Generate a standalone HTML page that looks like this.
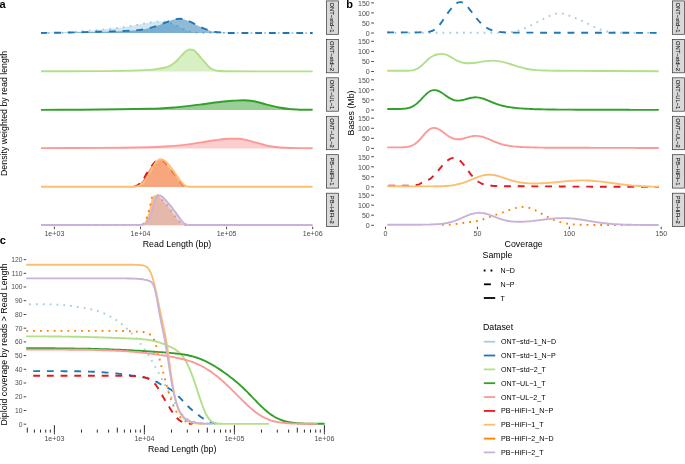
<!DOCTYPE html>
<html><head><meta charset="utf-8"><style>
html,body{margin:0;padding:0;background:#fff;}
body{width:685px;height:464px;overflow:hidden;}
svg{display:block;font-family:"Liberation Sans", sans-serif;will-change:transform;}
</style></head><body>
<svg width="685" height="464" viewBox="0 0 685 464">
<rect width="685" height="464" fill="#fff"/>
<text x="-0.6" y="8.2" font-size="11" fill="#000" text-anchor="start" font-weight="bold">a</text>
<text x="346.3" y="8.2" font-size="11" fill="#000" text-anchor="start" font-weight="bold">b</text>
<text x="-0.3" y="244.1" font-size="11" fill="#000" text-anchor="start" font-weight="bold">c</text>
<rect x="326.5" y="0.9" width="12" height="33.4" fill="#D9D9D9" stroke="#333333" stroke-width="0.7"/>
<text transform="translate(330.4,17.6) rotate(90)" font-size="5.8" fill="#1A1A1A" stroke="#1A1A1A" stroke-width="0.12" text-anchor="middle">ONT−std−1</text>
<rect x="672.4" y="0.9" width="12" height="33.4" fill="#D9D9D9" stroke="#333333" stroke-width="0.7"/>
<text transform="translate(676.3,17.6) rotate(90)" font-size="5.8" fill="#1A1A1A" stroke="#1A1A1A" stroke-width="0.12" text-anchor="middle">ONT−std−1</text>
<rect x="326.5" y="39.4" width="12" height="33.4" fill="#D9D9D9" stroke="#333333" stroke-width="0.7"/>
<text transform="translate(330.4,56) rotate(90)" font-size="5.8" fill="#1A1A1A" stroke="#1A1A1A" stroke-width="0.12" text-anchor="middle">ONT−std−2</text>
<rect x="672.4" y="39.4" width="12" height="33.4" fill="#D9D9D9" stroke="#333333" stroke-width="0.7"/>
<text transform="translate(676.3,56) rotate(90)" font-size="5.8" fill="#1A1A1A" stroke="#1A1A1A" stroke-width="0.12" text-anchor="middle">ONT−std−2</text>
<rect x="326.5" y="77.8" width="12" height="33.4" fill="#D9D9D9" stroke="#333333" stroke-width="0.7"/>
<text transform="translate(330.4,94.5) rotate(90)" font-size="5.8" fill="#1A1A1A" stroke="#1A1A1A" stroke-width="0.12" text-anchor="middle">ONT−UL−1</text>
<rect x="672.4" y="77.8" width="12" height="33.4" fill="#D9D9D9" stroke="#333333" stroke-width="0.7"/>
<text transform="translate(676.3,94.5) rotate(90)" font-size="5.8" fill="#1A1A1A" stroke="#1A1A1A" stroke-width="0.12" text-anchor="middle">ONT−UL−1</text>
<rect x="326.5" y="116.3" width="12" height="33.4" fill="#D9D9D9" stroke="#333333" stroke-width="0.7"/>
<text transform="translate(330.4,133) rotate(90)" font-size="5.8" fill="#1A1A1A" stroke="#1A1A1A" stroke-width="0.12" text-anchor="middle">ONT−UL−2</text>
<rect x="672.4" y="116.3" width="12" height="33.4" fill="#D9D9D9" stroke="#333333" stroke-width="0.7"/>
<text transform="translate(676.3,133) rotate(90)" font-size="5.8" fill="#1A1A1A" stroke="#1A1A1A" stroke-width="0.12" text-anchor="middle">ONT−UL−2</text>
<rect x="326.5" y="154.7" width="12" height="33.4" fill="#D9D9D9" stroke="#333333" stroke-width="0.7"/>
<text transform="translate(330.4,171.4) rotate(90)" font-size="5.8" fill="#1A1A1A" stroke="#1A1A1A" stroke-width="0.12" text-anchor="middle">PB−HiFi−1</text>
<rect x="672.4" y="154.7" width="12" height="33.4" fill="#D9D9D9" stroke="#333333" stroke-width="0.7"/>
<text transform="translate(676.3,171.4) rotate(90)" font-size="5.8" fill="#1A1A1A" stroke="#1A1A1A" stroke-width="0.12" text-anchor="middle">PB−HiFi−1</text>
<rect x="326.5" y="193.2" width="12" height="33.4" fill="#D9D9D9" stroke="#333333" stroke-width="0.7"/>
<text transform="translate(330.4,209.8) rotate(90)" font-size="5.8" fill="#1A1A1A" stroke="#1A1A1A" stroke-width="0.12" text-anchor="middle">PB−HiFi−2</text>
<rect x="672.4" y="193.2" width="12" height="33.4" fill="#D9D9D9" stroke="#333333" stroke-width="0.7"/>
<text transform="translate(676.3,209.8) rotate(90)" font-size="5.8" fill="#1A1A1A" stroke="#1A1A1A" stroke-width="0.12" text-anchor="middle">PB−HiFi−2</text>
<text transform="translate(7.1,113.4) rotate(-90)" font-size="8.8" fill="#000" text-anchor="middle" font-weight="normal">Density weighted by read length</text>
<text transform="translate(353.9,113) rotate(-90)" font-size="8.8" fill="#000" text-anchor="middle" font-weight="normal">Bases (Mb)</text>
<text transform="translate(7.1,344.4) rotate(-90)" font-size="8.8" fill="#000" text-anchor="middle" font-weight="normal">Diploid coverage by reads &gt; Read Length</text>
<text x="177" y="246.6" font-size="8.8" fill="#000" text-anchor="middle" font-weight="normal">Read Length (bp)</text>
<text x="523.7" y="246.6" font-size="8.8" fill="#000" text-anchor="middle" font-weight="normal">Coverage</text>
<text x="182.2" y="451.6" font-size="8.8" fill="#000" text-anchor="middle" font-weight="normal">Read Length (bp)</text>
<line x1="54.4" y1="226.7" x2="54.4" y2="229.2" stroke="#333333" stroke-width="0.9"/>
<text x="54.4" y="236.3" font-size="7.1" fill="#4D4D4D" text-anchor="middle" font-weight="normal">1e+03</text>
<line x1="140.5" y1="226.7" x2="140.5" y2="229.2" stroke="#333333" stroke-width="0.9"/>
<text x="140.5" y="236.3" font-size="7.1" fill="#4D4D4D" text-anchor="middle" font-weight="normal">1e+04</text>
<line x1="226.6" y1="226.7" x2="226.6" y2="229.2" stroke="#333333" stroke-width="0.9"/>
<text x="226.6" y="236.3" font-size="7.1" fill="#4D4D4D" text-anchor="middle" font-weight="normal">1e+05</text>
<line x1="312.7" y1="226.7" x2="312.7" y2="229.2" stroke="#333333" stroke-width="0.9"/>
<text x="312.7" y="236.3" font-size="7.1" fill="#4D4D4D" text-anchor="middle" font-weight="normal">1e+06</text>
<line x1="385.5" y1="226.7" x2="385.5" y2="229.2" stroke="#333333" stroke-width="0.9"/>
<text x="385.5" y="236.3" font-size="7.1" fill="#4D4D4D" text-anchor="middle" font-weight="normal">0</text>
<line x1="477.4" y1="226.7" x2="477.4" y2="229.2" stroke="#333333" stroke-width="0.9"/>
<text x="477.4" y="236.3" font-size="7.1" fill="#4D4D4D" text-anchor="middle" font-weight="normal">50</text>
<line x1="569.3" y1="226.7" x2="569.3" y2="229.2" stroke="#333333" stroke-width="0.9"/>
<text x="569.3" y="236.3" font-size="7.1" fill="#4D4D4D" text-anchor="middle" font-weight="normal">100</text>
<line x1="661.2" y1="226.7" x2="661.2" y2="229.2" stroke="#333333" stroke-width="0.9"/>
<text x="661.2" y="236.3" font-size="7.1" fill="#4D4D4D" text-anchor="middle" font-weight="normal">150</text>
<line x1="371.2" y1="33" x2="373.9" y2="33" stroke="#333333" stroke-width="0.9"/>
<text x="369.8" y="35.8" font-size="7.1" fill="#4D4D4D" text-anchor="end" font-weight="normal">0</text>
<line x1="371.2" y1="23" x2="373.9" y2="23" stroke="#333333" stroke-width="0.9"/>
<text x="369.8" y="25.7" font-size="7.1" fill="#4D4D4D" text-anchor="end" font-weight="normal">50</text>
<line x1="371.2" y1="12.9" x2="373.9" y2="12.9" stroke="#333333" stroke-width="0.9"/>
<text x="369.8" y="15.7" font-size="7.1" fill="#4D4D4D" text-anchor="end" font-weight="normal">100</text>
<line x1="371.2" y1="2.9" x2="373.9" y2="2.9" stroke="#333333" stroke-width="0.9"/>
<text x="369.8" y="5.6" font-size="7.1" fill="#4D4D4D" text-anchor="end" font-weight="normal">150</text>
<line x1="371.2" y1="71.5" x2="373.9" y2="71.5" stroke="#333333" stroke-width="0.9"/>
<text x="369.8" y="74.2" font-size="7.1" fill="#4D4D4D" text-anchor="end" font-weight="normal">0</text>
<line x1="371.2" y1="61.5" x2="373.9" y2="61.5" stroke="#333333" stroke-width="0.9"/>
<text x="369.8" y="64.2" font-size="7.1" fill="#4D4D4D" text-anchor="end" font-weight="normal">50</text>
<line x1="371.2" y1="51.4" x2="373.9" y2="51.4" stroke="#333333" stroke-width="0.9"/>
<text x="369.8" y="54.1" font-size="7.1" fill="#4D4D4D" text-anchor="end" font-weight="normal">100</text>
<line x1="371.2" y1="41.3" x2="373.9" y2="41.3" stroke="#333333" stroke-width="0.9"/>
<text x="369.8" y="44.1" font-size="7.1" fill="#4D4D4D" text-anchor="end" font-weight="normal">150</text>
<line x1="371.2" y1="110" x2="373.9" y2="110" stroke="#333333" stroke-width="0.9"/>
<text x="369.8" y="112.7" font-size="7.1" fill="#4D4D4D" text-anchor="end" font-weight="normal">0</text>
<line x1="371.2" y1="99.9" x2="373.9" y2="99.9" stroke="#333333" stroke-width="0.9"/>
<text x="369.8" y="102.7" font-size="7.1" fill="#4D4D4D" text-anchor="end" font-weight="normal">50</text>
<line x1="371.2" y1="89.8" x2="373.9" y2="89.8" stroke="#333333" stroke-width="0.9"/>
<text x="369.8" y="92.6" font-size="7.1" fill="#4D4D4D" text-anchor="end" font-weight="normal">100</text>
<line x1="371.2" y1="79.8" x2="373.9" y2="79.8" stroke="#333333" stroke-width="0.9"/>
<text x="369.8" y="82.5" font-size="7.1" fill="#4D4D4D" text-anchor="end" font-weight="normal">150</text>
<line x1="371.2" y1="148.4" x2="373.9" y2="148.4" stroke="#333333" stroke-width="0.9"/>
<text x="369.8" y="151.2" font-size="7.1" fill="#4D4D4D" text-anchor="end" font-weight="normal">0</text>
<line x1="371.2" y1="138.3" x2="373.9" y2="138.3" stroke="#333333" stroke-width="0.9"/>
<text x="369.8" y="141.1" font-size="7.1" fill="#4D4D4D" text-anchor="end" font-weight="normal">50</text>
<line x1="371.2" y1="128.3" x2="373.9" y2="128.3" stroke="#333333" stroke-width="0.9"/>
<text x="369.8" y="131.1" font-size="7.1" fill="#4D4D4D" text-anchor="end" font-weight="normal">100</text>
<line x1="371.2" y1="118.2" x2="373.9" y2="118.2" stroke="#333333" stroke-width="0.9"/>
<text x="369.8" y="121" font-size="7.1" fill="#4D4D4D" text-anchor="end" font-weight="normal">150</text>
<line x1="371.2" y1="186.9" x2="373.9" y2="186.9" stroke="#333333" stroke-width="0.9"/>
<text x="369.8" y="189.6" font-size="7.1" fill="#4D4D4D" text-anchor="end" font-weight="normal">0</text>
<line x1="371.2" y1="176.8" x2="373.9" y2="176.8" stroke="#333333" stroke-width="0.9"/>
<text x="369.8" y="179.6" font-size="7.1" fill="#4D4D4D" text-anchor="end" font-weight="normal">50</text>
<line x1="371.2" y1="166.8" x2="373.9" y2="166.8" stroke="#333333" stroke-width="0.9"/>
<text x="369.8" y="169.5" font-size="7.1" fill="#4D4D4D" text-anchor="end" font-weight="normal">100</text>
<line x1="371.2" y1="156.7" x2="373.9" y2="156.7" stroke="#333333" stroke-width="0.9"/>
<text x="369.8" y="159.5" font-size="7.1" fill="#4D4D4D" text-anchor="end" font-weight="normal">150</text>
<line x1="371.2" y1="225.3" x2="373.9" y2="225.3" stroke="#333333" stroke-width="0.9"/>
<text x="369.8" y="228.1" font-size="7.1" fill="#4D4D4D" text-anchor="end" font-weight="normal">0</text>
<line x1="371.2" y1="215.2" x2="373.9" y2="215.2" stroke="#333333" stroke-width="0.9"/>
<text x="369.8" y="218" font-size="7.1" fill="#4D4D4D" text-anchor="end" font-weight="normal">50</text>
<line x1="371.2" y1="205.2" x2="373.9" y2="205.2" stroke="#333333" stroke-width="0.9"/>
<text x="369.8" y="208" font-size="7.1" fill="#4D4D4D" text-anchor="end" font-weight="normal">100</text>
<line x1="371.2" y1="195.2" x2="373.9" y2="195.2" stroke="#333333" stroke-width="0.9"/>
<text x="369.8" y="197.9" font-size="7.1" fill="#4D4D4D" text-anchor="end" font-weight="normal">150</text>
<line x1="23.7" y1="424.2" x2="26.2" y2="424.2" stroke="#333333" stroke-width="0.9"/>
<text x="22.4" y="426.6" font-size="6.7" fill="#4D4D4D" text-anchor="end" font-weight="normal">0</text>
<line x1="23.7" y1="410.5" x2="26.2" y2="410.5" stroke="#333333" stroke-width="0.9"/>
<text x="22.4" y="412.9" font-size="6.7" fill="#4D4D4D" text-anchor="end" font-weight="normal">10</text>
<line x1="23.7" y1="396.8" x2="26.2" y2="396.8" stroke="#333333" stroke-width="0.9"/>
<text x="22.4" y="399.2" font-size="6.7" fill="#4D4D4D" text-anchor="end" font-weight="normal">20</text>
<line x1="23.7" y1="383" x2="26.2" y2="383" stroke="#333333" stroke-width="0.9"/>
<text x="22.4" y="385.4" font-size="6.7" fill="#4D4D4D" text-anchor="end" font-weight="normal">30</text>
<line x1="23.7" y1="369.3" x2="26.2" y2="369.3" stroke="#333333" stroke-width="0.9"/>
<text x="22.4" y="371.7" font-size="6.7" fill="#4D4D4D" text-anchor="end" font-weight="normal">40</text>
<line x1="23.7" y1="355.6" x2="26.2" y2="355.6" stroke="#333333" stroke-width="0.9"/>
<text x="22.4" y="358" font-size="6.7" fill="#4D4D4D" text-anchor="end" font-weight="normal">50</text>
<line x1="23.7" y1="341.9" x2="26.2" y2="341.9" stroke="#333333" stroke-width="0.9"/>
<text x="22.4" y="344.3" font-size="6.7" fill="#4D4D4D" text-anchor="end" font-weight="normal">60</text>
<line x1="23.7" y1="328.2" x2="26.2" y2="328.2" stroke="#333333" stroke-width="0.9"/>
<text x="22.4" y="330.6" font-size="6.7" fill="#4D4D4D" text-anchor="end" font-weight="normal">70</text>
<line x1="23.7" y1="314.5" x2="26.2" y2="314.5" stroke="#333333" stroke-width="0.9"/>
<text x="22.4" y="316.9" font-size="6.7" fill="#4D4D4D" text-anchor="end" font-weight="normal">80</text>
<line x1="23.7" y1="300.7" x2="26.2" y2="300.7" stroke="#333333" stroke-width="0.9"/>
<text x="22.4" y="303.1" font-size="6.7" fill="#4D4D4D" text-anchor="end" font-weight="normal">90</text>
<line x1="23.7" y1="287" x2="26.2" y2="287" stroke="#333333" stroke-width="0.9"/>
<text x="22.4" y="289.4" font-size="6.7" fill="#4D4D4D" text-anchor="end" font-weight="normal">100</text>
<line x1="23.7" y1="273.3" x2="26.2" y2="273.3" stroke="#333333" stroke-width="0.9"/>
<text x="22.4" y="275.7" font-size="6.7" fill="#4D4D4D" text-anchor="end" font-weight="normal">110</text>
<line x1="23.7" y1="259.6" x2="26.2" y2="259.6" stroke="#333333" stroke-width="0.9"/>
<text x="22.4" y="262" font-size="6.7" fill="#4D4D4D" text-anchor="end" font-weight="normal">120</text>
<line x1="27.3" y1="427.6" x2="27.3" y2="432.6" stroke="#111" stroke-width="0.9"/>
<line x1="34.4" y1="429.6" x2="34.4" y2="432.6" stroke="#111" stroke-width="0.9"/>
<line x1="40.5" y1="429.6" x2="40.5" y2="432.6" stroke="#111" stroke-width="0.9"/>
<line x1="45.7" y1="429.6" x2="45.7" y2="432.6" stroke="#111" stroke-width="0.9"/>
<line x1="50.3" y1="429.6" x2="50.3" y2="432.6" stroke="#111" stroke-width="0.9"/>
<line x1="54.4" y1="425.2" x2="54.4" y2="432.6" stroke="#111" stroke-width="0.9"/>
<line x1="81.5" y1="429.6" x2="81.5" y2="432.6" stroke="#111" stroke-width="0.9"/>
<line x1="97.3" y1="429.6" x2="97.3" y2="432.6" stroke="#111" stroke-width="0.9"/>
<line x1="108.6" y1="429.6" x2="108.6" y2="432.6" stroke="#111" stroke-width="0.9"/>
<line x1="117.3" y1="427.6" x2="117.3" y2="432.6" stroke="#111" stroke-width="0.9"/>
<line x1="124.4" y1="429.6" x2="124.4" y2="432.6" stroke="#111" stroke-width="0.9"/>
<line x1="130.5" y1="429.6" x2="130.5" y2="432.6" stroke="#111" stroke-width="0.9"/>
<line x1="135.7" y1="429.6" x2="135.7" y2="432.6" stroke="#111" stroke-width="0.9"/>
<line x1="140.3" y1="429.6" x2="140.3" y2="432.6" stroke="#111" stroke-width="0.9"/>
<line x1="144.4" y1="425.2" x2="144.4" y2="432.6" stroke="#111" stroke-width="0.9"/>
<line x1="171.5" y1="429.6" x2="171.5" y2="432.6" stroke="#111" stroke-width="0.9"/>
<line x1="187.3" y1="429.6" x2="187.3" y2="432.6" stroke="#111" stroke-width="0.9"/>
<line x1="198.6" y1="429.6" x2="198.6" y2="432.6" stroke="#111" stroke-width="0.9"/>
<line x1="207.3" y1="427.6" x2="207.3" y2="432.6" stroke="#111" stroke-width="0.9"/>
<line x1="214.4" y1="429.6" x2="214.4" y2="432.6" stroke="#111" stroke-width="0.9"/>
<line x1="220.5" y1="429.6" x2="220.5" y2="432.6" stroke="#111" stroke-width="0.9"/>
<line x1="225.7" y1="429.6" x2="225.7" y2="432.6" stroke="#111" stroke-width="0.9"/>
<line x1="230.3" y1="429.6" x2="230.3" y2="432.6" stroke="#111" stroke-width="0.9"/>
<line x1="234.4" y1="425.2" x2="234.4" y2="432.6" stroke="#111" stroke-width="0.9"/>
<line x1="261.5" y1="429.6" x2="261.5" y2="432.6" stroke="#111" stroke-width="0.9"/>
<line x1="277.3" y1="429.6" x2="277.3" y2="432.6" stroke="#111" stroke-width="0.9"/>
<line x1="288.6" y1="429.6" x2="288.6" y2="432.6" stroke="#111" stroke-width="0.9"/>
<line x1="297.3" y1="427.6" x2="297.3" y2="432.6" stroke="#111" stroke-width="0.9"/>
<line x1="304.4" y1="429.6" x2="304.4" y2="432.6" stroke="#111" stroke-width="0.9"/>
<line x1="310.5" y1="429.6" x2="310.5" y2="432.6" stroke="#111" stroke-width="0.9"/>
<line x1="315.7" y1="429.6" x2="315.7" y2="432.6" stroke="#111" stroke-width="0.9"/>
<line x1="320.3" y1="429.6" x2="320.3" y2="432.6" stroke="#111" stroke-width="0.9"/>
<line x1="324.4" y1="425.2" x2="324.4" y2="432.6" stroke="#111" stroke-width="0.9"/>
<line x1="54.4" y1="432.6" x2="54.4" y2="434.4" stroke="#222" stroke-width="0.9"/>
<line x1="144.4" y1="432.6" x2="144.4" y2="434.4" stroke="#222" stroke-width="0.9"/>
<line x1="234.4" y1="432.6" x2="234.4" y2="434.4" stroke="#222" stroke-width="0.9"/>
<line x1="324.4" y1="432.6" x2="324.4" y2="434.4" stroke="#222" stroke-width="0.9"/>
<text x="54.4" y="441" font-size="7.1" fill="#4D4D4D" text-anchor="middle" font-weight="normal">1e+03</text>
<text x="144.4" y="441" font-size="7.1" fill="#4D4D4D" text-anchor="middle" font-weight="normal">1e+04</text>
<text x="234.4" y="441" font-size="7.1" fill="#4D4D4D" text-anchor="middle" font-weight="normal">1e+05</text>
<text x="324.4" y="441" font-size="7.1" fill="#4D4D4D" text-anchor="middle" font-weight="normal">1e+06</text>
<path d="M41,33 C47.3,33 53.7,32.9 60,32.9 C65.2,32.8 70.5,32.1 75.7,31.7 C80.4,31.4 85,31.1 89.7,30.7 C94.2,30.4 98.6,30 103.1,29.6 C107.7,29.2 112.2,28.7 116.8,28.1 C121.3,27.5 125.9,26.9 130.4,26.2 C134.8,25.5 139.3,24.4 143.7,23.6 C145.9,23.2 148.2,22.8 150.4,22.5 C152.6,22.2 154.9,21.6 157.1,21.6 C159.3,21.6 161.5,21.6 163.7,21.6 C165.9,21.6 168.1,22.3 170.3,22.9 C172.5,23.5 174.6,24.8 176.8,25.8 C178.9,26.8 180.9,28 183,28.9 C185.2,29.9 187.3,31 189.5,31.5 C191.7,32 193.8,32.4 196,32.6 C199,32.8 202,33 205,33 C240.9,33 276.7,33 312.6,33 L312.6,33 L41,33 Z" fill="#A6CEE3" fill-opacity="0.5" stroke="none"/>
<path d="M41,33 C47.3,33 53.7,32.9 60,32.9 C65.2,32.8 70.5,32.1 75.7,31.7 C80.4,31.4 85,31.1 89.7,30.7 C94.2,30.4 98.6,30 103.1,29.6 C107.7,29.2 112.2,28.7 116.8,28.1 C121.3,27.5 125.9,26.9 130.4,26.2 C134.8,25.5 139.3,24.4 143.7,23.6 C145.9,23.2 148.2,22.8 150.4,22.5 C152.6,22.2 154.9,21.6 157.1,21.6 C159.3,21.6 161.5,21.6 163.7,21.6 C165.9,21.6 168.1,22.3 170.3,22.9 C172.5,23.5 174.6,24.8 176.8,25.8 C178.9,26.8 180.9,28 183,28.9 C185.2,29.9 187.3,31 189.5,31.5 C191.7,32 193.8,32.4 196,32.6 C199,32.8 202,33 205,33 C240.9,33 276.7,33 312.6,33" fill="none" stroke="#A6CEE3" stroke-width="1.9" stroke-dasharray="1.8 5.05" stroke-dashoffset="0.06" stroke-linejoin="round"/>
<path d="M41,33 C50.7,32.9 60.3,32.7 70,32.5 C75,32.4 80,32.2 85,32.1 C89.7,32 94.3,31.8 99,31.7 C103.3,31.6 107.7,31.5 112,31.4 C116.7,31.2 121.3,31.1 126,30.9 C130.7,30.7 135.3,30.4 140,29.9 C144.3,29.4 148.7,28.4 153,27.2 C157.3,26 161.7,24.1 166,22.4 C168,21.6 170,20.5 172,20 C174.5,19.4 177,18.7 179.5,18.7 C181.7,18.7 183.8,19.3 186,19.9 C187.7,20.3 189.3,21.4 191,22.2 C194,23.6 197,25.4 200,26.8 C202.3,27.9 204.7,28.9 207,29.7 C209.7,30.6 212.3,31.5 215,31.9 C217.3,32.2 219.7,32.4 222,32.6 C224.7,32.8 227.3,33 230,33 C257.5,33 285.1,33 312.6,33 L312.6,33 L41,33 Z" fill="#1F78B4" fill-opacity="0.5" stroke="none"/>
<path d="M41,33 C50.7,32.9 60.3,32.7 70,32.5 C75,32.4 80,32.2 85,32.1 C89.7,32 94.3,31.8 99,31.7 C103.3,31.6 107.7,31.5 112,31.4 C116.7,31.2 121.3,31.1 126,30.9 C130.7,30.7 135.3,30.4 140,29.9 C144.3,29.4 148.7,28.4 153,27.2 C157.3,26 161.7,24.1 166,22.4 C168,21.6 170,20.5 172,20 C174.5,19.4 177,18.7 179.5,18.7 C181.7,18.7 183.8,19.3 186,19.9 C187.7,20.3 189.3,21.4 191,22.2 C194,23.6 197,25.4 200,26.8 C202.3,27.9 204.7,28.9 207,29.7 C209.7,30.6 212.3,31.5 215,31.9 C217.3,32.2 219.7,32.4 222,32.6 C224.7,32.8 227.3,33 230,33 C257.5,33 285.1,33 312.6,33" fill="none" stroke="#1F78B4" stroke-width="1.9" stroke-dasharray="6.85 6.85" stroke-dashoffset="0.59" stroke-linejoin="round"/>
<path d="M41,71.3 C60.7,71.3 80.3,71.2 100,71.1 C106.7,71.1 113.3,71 120,70.9 C128.7,70.8 137.3,70.5 146,70.1 C149,70 152,69.7 155,69.4 C157.7,69.1 160.3,68.6 163,68 C165.3,67.5 167.7,66.8 170,65.8 C172,64.9 174,63.2 176,61.5 C177.7,60.1 179.3,57.9 181,56.2 C182.7,54.5 184.3,52 186,51.1 C187.3,50.3 188.7,49.5 190,49.5 C191.3,49.5 192.7,49.9 194,50.4 C195.7,51 197.3,53.7 199,55.5 C201,57.7 203,60.3 205,62.5 C207,64.7 209,67.5 211,68.6 C213,69.7 215,70.6 217,70.8 C219.7,71.1 222.3,71.3 225,71.3 C254.2,71.4 283.4,71.4 312.6,71.4 L312.6,71.5 L41,71.5 Z" fill="#B2DF8A" fill-opacity="0.5" stroke="none"/>
<path d="M41,71.3 C60.7,71.3 80.3,71.2 100,71.1 C106.7,71.1 113.3,71 120,70.9 C128.7,70.8 137.3,70.5 146,70.1 C149,70 152,69.7 155,69.4 C157.7,69.1 160.3,68.6 163,68 C165.3,67.5 167.7,66.8 170,65.8 C172,64.9 174,63.2 176,61.5 C177.7,60.1 179.3,57.9 181,56.2 C182.7,54.5 184.3,52 186,51.1 C187.3,50.3 188.7,49.5 190,49.5 C191.3,49.5 192.7,49.9 194,50.4 C195.7,51 197.3,53.7 199,55.5 C201,57.7 203,60.3 205,62.5 C207,64.7 209,67.5 211,68.6 C213,69.7 215,70.6 217,70.8 C219.7,71.1 222.3,71.3 225,71.3 C254.2,71.4 283.4,71.4 312.6,71.4" fill="none" stroke="#B2DF8A" stroke-width="1.9" stroke-linejoin="round"/>
<path d="M41,109.9 C54,109.8 67,109.8 80,109.7 C93.3,109.5 106.7,109.4 120,109.2 C130,109.1 140,109 150,108.8 C158.3,108.6 166.5,108 174.8,107.4 C183.1,106.8 191.3,105.6 199.6,104.6 C206.2,103.8 212.9,102.7 219.5,102 C223.6,101.5 227.8,101 231.9,100.8 C235.8,100.6 239.6,100.3 243.5,100.3 C247.1,100.3 250.6,100.8 254.2,101.3 C258.3,101.9 262.5,103.6 266.6,104.6 C270.7,105.6 274.9,106.8 279,107.5 C283.1,108.2 287.3,108.9 291.4,109.2 C294.3,109.4 297.1,109.6 300,109.7 C304.2,109.8 308.4,109.8 312.6,109.8 L312.6,110 L41,110 Z" fill="#33A02C" fill-opacity="0.5" stroke="none"/>
<path d="M41,109.9 C54,109.8 67,109.8 80,109.7 C93.3,109.5 106.7,109.4 120,109.2 C130,109.1 140,109 150,108.8 C158.3,108.6 166.5,108 174.8,107.4 C183.1,106.8 191.3,105.6 199.6,104.6 C206.2,103.8 212.9,102.7 219.5,102 C223.6,101.5 227.8,101 231.9,100.8 C235.8,100.6 239.6,100.3 243.5,100.3 C247.1,100.3 250.6,100.8 254.2,101.3 C258.3,101.9 262.5,103.6 266.6,104.6 C270.7,105.6 274.9,106.8 279,107.5 C283.1,108.2 287.3,108.9 291.4,109.2 C294.3,109.4 297.1,109.6 300,109.7 C304.2,109.8 308.4,109.8 312.6,109.8" fill="none" stroke="#33A02C" stroke-width="1.9" stroke-linejoin="round"/>
<path d="M41,148.1 C60.7,148.1 80.3,148 100,147.9 C106.7,147.9 113.3,147.9 120,147.8 C130,147.7 140,147.5 150,147.2 C155,147.1 160,146.8 165,146.5 C170,146.2 175,145.9 180,145.4 C186.7,144.8 193.3,143.6 200,142.6 C205,141.9 210,140.8 215,140.2 C220,139.6 225,138.8 230,138.8 C232.7,138.8 235.3,138.8 238,138.8 C240.3,138.8 242.7,139.2 245,139.6 C246.7,139.9 248.3,140.5 250,140.9 C253.3,141.8 256.7,142.8 260,143.7 C263.3,144.6 266.7,145.8 270,146.3 C273.3,146.8 276.7,147.3 280,147.5 C283.3,147.7 286.7,147.9 290,148 C297.5,148.1 305.1,148.2 312.6,148.2 L312.6,148.4 L41,148.4 Z" fill="#FB9A99" fill-opacity="0.5" stroke="none"/>
<path d="M41,148.1 C60.7,148.1 80.3,148 100,147.9 C106.7,147.9 113.3,147.9 120,147.8 C130,147.7 140,147.5 150,147.2 C155,147.1 160,146.8 165,146.5 C170,146.2 175,145.9 180,145.4 C186.7,144.8 193.3,143.6 200,142.6 C205,141.9 210,140.8 215,140.2 C220,139.6 225,138.8 230,138.8 C232.7,138.8 235.3,138.8 238,138.8 C240.3,138.8 242.7,139.2 245,139.6 C246.7,139.9 248.3,140.5 250,140.9 C253.3,141.8 256.7,142.8 260,143.7 C263.3,144.6 266.7,145.8 270,146.3 C273.3,146.8 276.7,147.3 280,147.5 C283.3,147.7 286.7,147.9 290,148 C297.5,148.1 305.1,148.2 312.6,148.2" fill="none" stroke="#FB9A99" stroke-width="1.9" stroke-linejoin="round"/>
<path d="M41,186.7 C72,186.7 103,186.7 134,186.7 C135,186.7 136,186 137,185.5 C138,185 139,184.3 140,183.5 C141,182.7 142,181.4 143,180 C144,178.6 145,176.3 146,174.6 C147,172.9 148,171.5 149,170 C150.2,168.2 151.4,166.2 152.6,164.8 C154.1,163.1 155.5,161.3 157,160.5 C158,160 159,159.4 160,159.4 C161,159.4 162,160.2 163,160.8 C164.7,161.9 166.3,164.3 168,166.2 C169.7,168.1 171.3,170.3 173,172.5 C174.7,174.7 176.3,177 178,179.2 C179,180.5 180,181.9 181,183 C182,184.1 183,185.6 184,185.9 C185.3,186.4 186.7,186.7 188,186.7 C229.5,186.7 271.1,186.7 312.6,186.7 L312.6,186.9 L41,186.9 Z" fill="#E31A1C" fill-opacity="0.5" stroke="none"/>
<path d="M134,186.7 C135,186.4 136,186 137,185.5 C138,185 139,184.3 140,183.5 C141,182.7 142,181.4 143,180 C144,178.6 145,176.3 146,174.6 C147,172.9 148,171.5 149,170 C150.2,168.2 151.4,166.2 152.6,164.8 C154.1,163.1 155.5,161.3 157,160.5 C158,160 159,159.4 160,159.4 C161,159.4 162,160.2 163,160.8 C164.7,161.9 166.3,164.3 168,166.2 C169.7,168.1 171.3,170.3 173,172.5 C174.7,174.7 176.3,177 178,179.2 C179,180.5 180,181.9 181,183 C182,184.1 183,185.6 184,185.9 C185.3,186.4 186.7,186.7 188,186.7" fill="none" stroke="#E31A1C" stroke-width="1.9" stroke-dasharray="6.85 6.85" stroke-linejoin="round"/>
<path d="M41,186.7 C72.2,186.7 103.3,186.7 134.5,186.7 C135.5,186.7 136.5,186.4 137.5,186.2 C138.5,186 139.5,185.5 140.5,185 C141.5,184.5 142.6,183.7 143.6,182.7 C144.4,181.9 145.2,180.7 146,179.5 C146.7,178.5 147.4,177.3 148.1,176.1 C148.9,174.7 149.7,173.3 150.5,171.8 C151.2,170.5 151.9,169 152.6,167.8 C153.9,165.6 155.1,163 156.4,161.8 C157.7,160.6 158.9,159.3 160.2,159.3 C161.5,159.3 162.7,159.8 164,160.3 C165.3,160.8 166.7,162.6 168,164 C169.7,165.8 171.3,168.2 173,170.4 C174.7,172.6 176.3,175.2 178,177.4 C179.7,179.6 181.3,182.4 183,183.9 C184,184.8 185,185.8 186,186.1 C187,186.4 188,186.7 189,186.7 C230.2,186.7 271.4,186.7 312.6,186.7 L312.6,186.9 L41,186.9 Z" fill="#FDBF6F" fill-opacity="0.5" stroke="none"/>
<path d="M41,186.7 C72.2,186.7 103.3,186.7 134.5,186.7 C135.5,186.7 136.5,186.4 137.5,186.2 C138.5,186 139.5,185.5 140.5,185 C141.5,184.5 142.6,183.7 143.6,182.7 C144.4,181.9 145.2,180.7 146,179.5 C146.7,178.5 147.4,177.3 148.1,176.1 C148.9,174.7 149.7,173.3 150.5,171.8 C151.2,170.5 151.9,169 152.6,167.8 C153.9,165.6 155.1,163 156.4,161.8 C157.7,160.6 158.9,159.3 160.2,159.3 C161.5,159.3 162.7,159.8 164,160.3 C165.3,160.8 166.7,162.6 168,164 C169.7,165.8 171.3,168.2 173,170.4 C174.7,172.6 176.3,175.2 178,177.4 C179.7,179.6 181.3,182.4 183,183.9 C184,184.8 185,185.8 186,186.1 C187,186.4 188,186.7 189,186.7 C230.2,186.7 271.4,186.7 312.6,186.7" fill="none" stroke="#FDBF6F" stroke-width="1.9" stroke-linejoin="round"/>
<path d="M41,225 C74,225 107,225 140,225 C141.3,225 142.7,224.3 144,223.3 C145,222.6 146,219.7 147,217.1 C147.7,215.4 148.3,212.9 149,210.4 C149.5,208.5 150,206.2 150.5,204 C151,201.8 151.5,198.1 152,197.4 C153,196.1 154,195.3 155,195.3 C155.7,195.3 156.3,195.3 157,195.3 C158.7,195.3 160.3,198.3 162,199.9 C163.7,201.5 165.3,203.2 167,205.2 C168.3,206.8 169.7,209 171,210.8 C172.3,212.6 173.7,214.6 175,216.3 C176.3,218 177.7,220.1 179,221.3 C180.3,222.5 181.7,223.7 183,224.2 C184,224.6 185,225 186,225 C228.2,225 270.4,225 312.6,225 L312.6,225.3 L41,225.3 Z" fill="#FF7F00" fill-opacity="0.5" stroke="none"/>
<path d="M41,225 C74,225 107,225 140,225 C141.3,225 142.7,224.3 144,223.3 C145,222.6 146,219.7 147,217.1 C147.7,215.4 148.3,212.9 149,210.4 C149.5,208.5 150,206.2 150.5,204 C151,201.8 151.5,198.1 152,197.4 C153,196.1 154,195.3 155,195.3 C155.7,195.3 156.3,195.3 157,195.3 C158.7,195.3 160.3,198.3 162,199.9 C163.7,201.5 165.3,203.2 167,205.2 C168.3,206.8 169.7,209 171,210.8 C172.3,212.6 173.7,214.6 175,216.3 C176.3,218 177.7,220.1 179,221.3 C180.3,222.5 181.7,223.7 183,224.2 C184,224.6 185,225 186,225 C228.2,225 270.4,225 312.6,225" fill="none" stroke="#FF7F00" stroke-width="1.9" stroke-dasharray="1.8 5.05" stroke-dashoffset="0.83" stroke-linejoin="round"/>
<path d="M41,225 C74,225 107,225 140,224.9 C141,224.9 142,224.7 143,224.5 C144.3,224.2 145.7,223.3 147,222.1 C148,221.2 149,219.1 150,216.9 C150.7,215.4 151.3,213.3 152,211 C152.7,208.7 153.3,204.9 154,202.8 C154.7,200.7 155.3,198.7 156,197.6 C156.7,196.5 157.3,195.3 158,195.3 C159,195.3 160,195.5 161,195.8 C162.3,196.2 163.7,198 165,199.3 C166.7,201 168.3,203.2 170,205.2 C171.7,207.2 173.3,209.4 175,211.6 C176.7,213.8 178.3,216.5 180,218.6 C181.3,220.3 182.7,222.5 184,223.3 C185,223.9 186,224.4 187,224.6 C188,224.8 189,225 190,225 C230.9,225 271.7,225 312.6,225 L312.6,225.3 L41,225.3 Z" fill="#CAB2D6" fill-opacity="0.5" stroke="none"/>
<path d="M41,225 C74,225 107,225 140,224.9 C141,224.9 142,224.7 143,224.5 C144.3,224.2 145.7,223.3 147,222.1 C148,221.2 149,219.1 150,216.9 C150.7,215.4 151.3,213.3 152,211 C152.7,208.7 153.3,204.9 154,202.8 C154.7,200.7 155.3,198.7 156,197.6 C156.7,196.5 157.3,195.3 158,195.3 C159,195.3 160,195.5 161,195.8 C162.3,196.2 163.7,198 165,199.3 C166.7,201 168.3,203.2 170,205.2 C171.7,207.2 173.3,209.4 175,211.6 C176.7,213.8 178.3,216.5 180,218.6 C181.3,220.3 182.7,222.5 184,223.3 C185,223.9 186,224.4 187,224.6 C188,224.8 189,225 190,225 C230.9,225 271.7,225 312.6,225" fill="none" stroke="#CAB2D6" stroke-width="1.9" stroke-linejoin="round"/>
<path d="M387.2,32.8 C387.9,32.8 388.5,32.8 389.2,32.8 C389.9,32.8 390.5,32.8 391.2,32.8 C391.9,32.8 392.5,32.8 393.2,32.8 C393.9,32.8 394.5,32.8 395.2,32.8 C395.9,32.8 396.5,32.8 397.2,32.8 C397.9,32.8 398.5,32.8 399.2,32.8 C399.9,32.8 400.5,32.8 401.2,32.8 C401.9,32.8 402.5,32.8 403.2,32.8 C403.9,32.8 404.5,32.8 405.2,32.8 C405.9,32.8 406.5,32.8 407.2,32.8 C407.9,32.8 408.5,32.8 409.2,32.8 C409.9,32.8 410.5,32.8 411.2,32.8 C411.9,32.8 412.5,32.8 413.2,32.8 C413.9,32.8 414.5,32.8 415.2,32.8 C415.9,32.8 416.5,32.8 417.2,32.8 C417.9,32.8 418.5,32.8 419.2,32.8 C419.9,32.8 420.5,32.8 421.2,32.8 C421.9,32.8 422.5,32.8 423.2,32.8 C423.9,32.8 424.5,32.8 425.2,32.8 C425.9,32.8 426.5,32.8 427.2,32.8 C427.9,32.8 428.5,32.8 429.2,32.8 C429.9,32.8 430.5,32.8 431.2,32.8 C431.9,32.8 432.5,32.8 433.2,32.8 C433.9,32.8 434.5,32.8 435.2,32.8 C435.9,32.8 436.5,32.8 437.2,32.8 C437.9,32.8 438.5,32.8 439.2,32.8 C439.9,32.8 440.5,32.8 441.2,32.8 C441.9,32.8 442.5,32.8 443.2,32.8 C443.9,32.8 444.5,32.8 445.2,32.8 C445.9,32.8 446.5,32.8 447.2,32.8 C447.9,32.8 448.5,32.8 449.2,32.8 C449.9,32.8 450.5,32.8 451.2,32.8 C451.9,32.8 452.5,32.8 453.2,32.8 C453.9,32.8 454.5,32.8 455.2,32.8 C455.9,32.8 456.5,32.8 457.2,32.8 C457.9,32.8 458.5,32.8 459.2,32.8 C459.9,32.8 460.5,32.8 461.2,32.8 C461.9,32.8 462.5,32.8 463.2,32.8 C463.9,32.8 464.5,32.8 465.2,32.8 C465.9,32.8 466.5,32.8 467.2,32.8 C467.9,32.8 468.5,32.8 469.2,32.8 C469.9,32.8 470.5,32.8 471.2,32.8 C471.9,32.8 472.5,32.8 473.2,32.8 C473.9,32.8 474.5,32.8 475.2,32.8 C475.9,32.8 476.5,32.8 477.2,32.8 C477.9,32.8 478.5,32.8 479.2,32.8 C479.9,32.8 480.5,32.8 481.2,32.8 C481.9,32.8 482.5,32.8 483.2,32.8 C483.9,32.8 484.5,32.8 485.2,32.8 C485.9,32.8 486.5,32.8 487.2,32.8 C487.9,32.8 488.5,32.8 489.2,32.8 C489.9,32.8 490.5,32.8 491.2,32.8 C491.9,32.8 492.5,32.8 493.2,32.8 C493.9,32.8 494.5,32.8 495.2,32.8 C495.9,32.8 496.5,32.8 497.2,32.8 C497.9,32.8 498.5,32.8 499.2,32.8 C499.9,32.8 500.5,32.8 501.2,32.8 C501.9,32.8 502.5,32.7 503.2,32.7 C503.9,32.7 504.5,32.7 505.2,32.6 C505.9,32.6 506.5,32.6 507.2,32.5 C507.9,32.5 508.5,32.4 509.2,32.4 C509.9,32.3 510.5,32.2 511.2,32.1 C511.9,32 512.5,31.9 513.2,31.8 C513.9,31.7 514.5,31.5 515.2,31.4 C515.9,31.2 516.5,31.1 517.2,30.9 C517.9,30.7 518.5,30.5 519.2,30.3 C519.9,30 520.5,29.8 521.2,29.5 C521.9,29.3 522.5,29 523.2,28.7 C523.9,28.5 524.5,28.2 525.2,27.9 C525.9,27.6 526.5,27.3 527.2,27 C527.9,26.7 528.5,26.3 529.2,26 C529.9,25.7 530.5,25.4 531.2,25.1 C531.9,24.8 532.5,24.4 533.2,24.1 C533.9,23.8 534.5,23.5 535.2,23.2 C535.9,22.8 536.5,22.5 537.2,22.2 C537.9,21.9 538.5,21.5 539.2,21.2 C539.9,20.9 540.5,20.5 541.2,20.2 C541.9,19.9 542.5,19.5 543.2,19.2 C543.9,18.8 544.5,18.5 545.2,18.1 C545.9,17.8 546.5,17.4 547.2,17.1 C547.9,16.8 548.5,16.4 549.2,16.1 C549.9,15.8 550.5,15.5 551.2,15.2 C551.9,15 552.5,14.7 553.2,14.5 C553.9,14.3 554.5,14.1 555.2,13.9 C555.9,13.8 556.5,13.6 557.2,13.6 C557.9,13.5 558.5,13.4 559.2,13.4 C559.9,13.4 560.5,13.5 561.2,13.5 C561.9,13.6 562.5,13.7 563.2,13.8 C563.9,13.9 564.5,14.1 565.2,14.3 C565.9,14.5 566.5,14.7 567.2,14.9 C567.9,15.1 568.5,15.4 569.2,15.6 C569.9,15.9 570.5,16.1 571.2,16.4 C571.9,16.6 572.5,16.9 573.2,17.2 C573.9,17.5 574.5,17.7 575.2,18 C575.9,18.3 576.5,18.6 577.2,18.8 C577.9,19.1 578.5,19.4 579.2,19.7 C579.9,20 580.5,20.3 581.2,20.6 C581.9,20.8 582.5,21.1 583.2,21.4 C583.9,21.8 584.5,22.1 585.2,22.4 C585.9,22.7 586.5,23 587.2,23.3 C587.9,23.7 588.5,24 589.2,24.3 C589.9,24.7 590.5,25 591.2,25.3 C591.9,25.7 592.5,26 593.2,26.3 C593.9,26.7 594.5,27 595.2,27.3 C595.9,27.6 596.5,27.9 597.2,28.2 C597.9,28.5 598.5,28.8 599.2,29.1 C599.9,29.3 600.5,29.6 601.2,29.8 C601.9,30.1 602.5,30.3 603.2,30.5 C603.9,30.7 604.5,30.9 605.2,31 C605.9,31.2 606.5,31.4 607.2,31.5 C607.9,31.6 608.5,31.8 609.2,31.9 C609.9,32 610.5,32.1 611.2,32.2 C611.9,32.2 612.5,32.3 613.2,32.4 C613.9,32.4 614.5,32.5 615.2,32.5 C615.9,32.6 616.5,32.6 617.2,32.7 C617.9,32.7 618.5,32.7 619.2,32.7 C619.9,32.8 620.5,32.8 621.2,32.8 C621.9,32.8 622.5,32.8 623.2,32.8 C623.9,32.8 624.5,32.8 625.2,32.9 C625.9,32.9 626.5,32.9 627.2,32.9 C627.9,32.9 628.5,32.9 629.2,32.9 C629.9,32.9 630.5,32.9 631.2,32.9 C631.9,32.9 632.5,32.9 633.2,32.9 C633.9,32.9 634.5,32.9 635.2,32.9 C635.9,32.9 636.5,32.9 637.2,32.9 C637.9,32.9 638.5,32.9 639.2,32.9 C639.9,32.9 640.5,32.9 641.2,32.9 C641.9,32.9 642.5,32.9 643.2,32.9 C643.9,32.9 644.5,32.9 645.2,32.9 C645.9,32.9 646.5,32.9 647.2,32.9 C647.9,32.9 648.5,32.9 649.2,32.9 C649.9,32.9 650.5,32.9 651.2,32.9 C651.9,32.9 652.5,32.9 653.2,32.9 C653.9,32.9 654.5,32.9 655.2,32.9 C655.9,32.9 656.5,32.9 657.2,32.9 C657.7,32.9 658.3,32.9 658.8,32.9" fill="none" stroke="#A6CEE3" stroke-width="1.9" stroke-dasharray="1.8 5.05" stroke-dashoffset="6.37" stroke-linejoin="round"/>
<path d="M387.2,32.3 C387.9,32.4 388.5,32.4 389.2,32.4 C389.9,32.4 390.5,32.4 391.2,32.4 C391.9,32.4 392.5,32.4 393.2,32.4 C393.9,32.4 394.5,32.4 395.2,32.4 C395.9,32.4 396.5,32.4 397.2,32.4 C397.9,32.4 398.5,32.4 399.2,32.4 C399.9,32.4 400.5,32.4 401.2,32.4 C401.9,32.4 402.5,32.4 403.2,32.4 C403.9,32.4 404.5,32.4 405.2,32.4 C405.9,32.4 406.5,32.4 407.2,32.4 C407.9,32.4 408.5,32.4 409.2,32.4 C409.9,32.4 410.5,32.4 411.2,32.4 C411.9,32.4 412.5,32.4 413.2,32.4 C413.9,32.4 414.5,32.4 415.2,32.4 C415.9,32.4 416.5,32.4 417.2,32.4 C417.9,32.4 418.5,32.4 419.2,32.4 C419.9,32.4 420.5,32.4 421.2,32.3 C421.9,32.3 422.5,32.3 423.2,32.3 C423.9,32.2 424.5,32.2 425.2,32.2 C425.9,32.1 426.5,32.1 427.2,32 C427.9,31.9 428.5,31.8 429.2,31.7 C429.9,31.5 430.5,31.4 431.2,31.2 C431.9,31 432.5,30.7 433.2,30.4 C433.9,30.1 434.5,29.7 435.2,29.2 C435.9,28.8 436.5,28.2 437.2,27.6 C437.9,26.9 438.5,26.2 439.2,25.4 C439.9,24.6 440.5,23.7 441.2,22.7 C441.9,21.8 442.5,20.8 443.2,19.8 C443.9,18.8 444.5,17.8 445.2,16.8 C445.9,15.8 446.5,14.9 447.2,13.9 C447.9,13 448.5,12.1 449.2,11.2 C449.9,10.3 450.5,9.4 451.2,8.6 C451.9,7.8 452.5,7 453.2,6.3 C453.9,5.5 454.5,4.8 455.2,4.3 C455.9,3.7 456.5,3.1 457.2,2.8 C457.9,2.5 458.5,2.1 459.2,2.1 C459.9,2.1 460.5,2.1 461.2,2.1 C461.9,2.1 462.5,2.6 463.2,2.9 C463.9,3.3 464.5,3.8 465.2,4.4 C465.9,5 466.5,5.7 467.2,6.4 C467.9,7.1 468.5,8 469.2,8.8 C469.9,9.6 470.5,10.5 471.2,11.4 C471.9,12.2 472.5,13.1 473.2,14 C473.9,14.9 474.5,15.8 475.2,16.6 C475.9,17.5 476.5,18.3 477.2,19.1 C477.9,19.9 478.5,20.6 479.2,21.4 C479.9,22.1 480.5,22.8 481.2,23.4 C481.9,24 482.5,24.6 483.2,25.2 C483.9,25.7 484.5,26.3 485.2,26.7 C485.9,27.2 486.5,27.6 487.2,28 C487.9,28.4 488.5,28.8 489.2,29.1 C489.9,29.4 490.5,29.7 491.2,30 C491.9,30.2 492.5,30.5 493.2,30.7 C493.9,30.9 494.5,31.1 495.2,31.2 C495.9,31.4 496.5,31.5 497.2,31.6 C497.9,31.7 498.5,31.8 499.2,31.9 C499.9,32 500.5,32.1 501.2,32.1 C501.9,32.2 502.5,32.3 503.2,32.3 C503.9,32.3 504.5,32.4 505.2,32.4 C505.9,32.4 506.5,32.5 507.2,32.5 C507.9,32.5 508.5,32.5 509.2,32.5 C509.9,32.5 510.5,32.6 511.2,32.6 C511.9,32.6 512.5,32.6 513.2,32.6 C513.9,32.6 514.5,32.6 515.2,32.6 C515.9,32.6 516.5,32.6 517.2,32.6 C517.9,32.6 518.5,32.6 519.2,32.6 C519.9,32.6 520.5,32.6 521.2,32.6 C521.9,32.6 522.5,32.6 523.2,32.6 C523.9,32.6 524.5,32.6 525.2,32.6 C525.9,32.6 526.5,32.6 527.2,32.6 C527.9,32.6 528.5,32.6 529.2,32.6 C529.9,32.6 530.5,32.6 531.2,32.6 C531.9,32.6 532.5,32.6 533.2,32.6 C533.9,32.6 534.5,32.6 535.2,32.6 C535.9,32.7 536.5,32.7 537.2,32.7 C537.9,32.7 538.5,32.7 539.2,32.7 C539.9,32.7 540.5,32.7 541.2,32.7 C541.9,32.7 542.5,32.7 543.2,32.7 C543.9,32.7 544.5,32.7 545.2,32.7 C545.9,32.7 546.5,32.7 547.2,32.7 C547.9,32.7 548.5,32.7 549.2,32.7 C549.9,32.7 550.5,32.7 551.2,32.7 C551.9,32.7 552.5,32.7 553.2,32.7 C553.9,32.7 554.5,32.7 555.2,32.7 C555.9,32.7 556.5,32.7 557.2,32.7 C557.9,32.7 558.5,32.7 559.2,32.7 C559.9,32.7 560.5,32.7 561.2,32.7 C561.9,32.7 562.5,32.7 563.2,32.7 C563.9,32.7 564.5,32.7 565.2,32.7 C565.9,32.7 566.5,32.7 567.2,32.7 C567.9,32.7 568.5,32.7 569.2,32.7 C569.9,32.7 570.5,32.7 571.2,32.7 C571.9,32.7 572.5,32.7 573.2,32.7 C573.9,32.7 574.5,32.7 575.2,32.7 C575.9,32.7 576.5,32.7 577.2,32.7 C577.9,32.7 578.5,32.7 579.2,32.7 C579.9,32.7 580.5,32.7 581.2,32.7 C581.9,32.7 582.5,32.7 583.2,32.7 C583.9,32.7 584.5,32.7 585.2,32.8 C585.9,32.8 586.5,32.8 587.2,32.8 C587.9,32.8 588.5,32.8 589.2,32.8 C589.9,32.8 590.5,32.8 591.2,32.8 C591.9,32.8 592.5,32.8 593.2,32.8 C593.9,32.8 594.5,32.8 595.2,32.8 C595.9,32.8 596.5,32.8 597.2,32.8 C597.9,32.8 598.5,32.8 599.2,32.8 C599.9,32.8 600.5,32.8 601.2,32.8 C601.9,32.8 602.5,32.8 603.2,32.8 C603.9,32.8 604.5,32.8 605.2,32.8 C605.9,32.8 606.5,32.8 607.2,32.8 C607.9,32.8 608.5,32.8 609.2,32.8 C609.9,32.8 610.5,32.8 611.2,32.8 C611.9,32.8 612.5,32.8 613.2,32.8 C613.9,32.8 614.5,32.8 615.2,32.8 C615.9,32.8 616.5,32.8 617.2,32.8 C617.9,32.8 618.5,32.8 619.2,32.8 C619.9,32.8 620.5,32.8 621.2,32.8 C621.9,32.8 622.5,32.8 623.2,32.8 C623.9,32.8 624.5,32.8 625.2,32.8 C625.9,32.8 626.5,32.8 627.2,32.8 C627.9,32.8 628.5,32.8 629.2,32.8 C629.9,32.8 630.5,32.8 631.2,32.8 C631.9,32.8 632.5,32.8 633.2,32.8 C633.9,32.8 634.5,32.9 635.2,32.9 C635.9,32.9 636.5,32.9 637.2,32.9 C637.9,32.9 638.5,32.9 639.2,32.9 C639.9,32.9 640.5,32.9 641.2,32.9 C641.9,32.9 642.5,32.9 643.2,32.9 C643.9,32.9 644.5,32.9 645.2,32.9 C645.9,32.9 646.5,32.9 647.2,32.9 C647.9,32.9 648.5,32.9 649.2,32.9 C649.9,32.9 650.5,32.9 651.2,32.9 C651.9,32.9 652.5,32.9 653.2,32.9 C653.9,32.9 654.5,32.9 655.2,32.9 C655.9,32.9 656.5,32.9 657.2,32.9 C657.7,32.9 658.3,32.9 658.8,32.9" fill="none" stroke="#1F78B4" stroke-width="1.9" stroke-dasharray="6.85 6.85" stroke-dashoffset="0.03" stroke-linejoin="round"/>
<path d="M387.2,70.8 C391.5,70.8 395.7,70.8 400,70.8 C402.7,70.8 405.3,70.8 408,70.7 C409.7,70.7 411.3,70.5 413,70.3 C414.3,70.1 415.7,69.4 417,68.8 C418.7,68 420.3,66.6 422,65.2 C423.3,64.1 424.7,62.7 426,61.4 C427,60.5 428,59.4 429,58.6 C430.3,57.6 431.7,56.6 433,56 C434.3,55.4 435.7,54.8 437,54.5 C438.5,54.2 440,53.9 441.5,53.9 C443,53.9 444.5,54.2 446,54.6 C447.5,55 449,56.1 450.5,56.9 C452.8,58.1 455.2,59.9 457.5,60.8 C460.4,61.9 463.4,63.3 466.3,63.3 C469.2,63.3 472.1,63 475,62.8 C477.9,62.6 480.9,61.7 483.8,61.4 C486.7,61.1 489.7,60.6 492.6,60.6 C495.5,60.6 498.4,61.1 501.3,61.6 C504.2,62.1 507.2,63.1 510.1,64 C513,64.9 515.9,66 518.8,66.8 C521.7,67.6 524.7,68.5 527.6,69 C530.5,69.5 533.5,69.9 536.4,70.1 C539.3,70.3 542.2,70.4 545.1,70.5 C550.1,70.6 555,70.8 560,70.8 C573.3,70.9 586.7,70.9 600,71 C619.6,71.1 639.2,71.2 658.8,71.2" fill="none" stroke="#B2DF8A" stroke-width="1.9" stroke-linejoin="round"/>
<path d="M387.2,109 C387.9,109 388.5,109 389.2,109 C389.9,109 390.5,109 391.2,109 C391.9,109 392.5,109 393.2,109 C393.9,109 394.5,109 395.2,109 C395.9,109 396.5,109 397.2,109 C397.9,109 398.5,109 399.2,109 C399.9,109 400.5,108.9 401.2,108.9 C401.9,108.9 402.5,108.9 403.2,108.8 C403.9,108.8 404.5,108.7 405.2,108.6 C405.9,108.5 406.5,108.4 407.2,108.3 C407.9,108.2 408.5,108 409.2,107.8 C409.9,107.6 410.5,107.4 411.2,107.1 C411.9,106.8 412.5,106.5 413.2,106.1 C413.9,105.7 414.5,105.3 415.2,104.8 C415.9,104.4 416.5,103.8 417.2,103.2 C417.9,102.7 418.5,102 419.2,101.4 C419.9,100.7 420.5,100 421.2,99.3 C421.9,98.6 422.5,97.8 423.2,97.1 C423.9,96.4 424.5,95.7 425.2,95.1 C425.9,94.4 426.5,93.7 427.2,93.2 C427.9,92.6 428.5,92.1 429.2,91.7 C429.9,91.3 430.5,90.9 431.2,90.7 C431.9,90.4 432.5,90.1 433.2,90.1 C433.9,90.1 434.5,90.1 435.2,90.1 C435.9,90.1 436.5,90.3 437.2,90.5 C437.9,90.7 438.5,91 439.2,91.3 C439.9,91.7 440.5,92.1 441.2,92.5 C441.9,92.9 442.5,93.3 443.2,93.8 C443.9,94.2 444.5,94.7 445.2,95.2 C445.9,95.7 446.5,96.1 447.2,96.6 C447.9,97 448.5,97.5 449.2,97.9 C449.9,98.3 450.5,98.6 451.2,99 C451.9,99.3 452.5,99.6 453.2,99.8 C453.9,100 454.5,100.3 455.2,100.4 C455.9,100.5 456.5,100.6 457.2,100.6 C457.9,100.6 458.5,100.6 459.2,100.6 C459.9,100.6 460.5,100.4 461.2,100.3 C461.9,100.2 462.5,100.1 463.2,99.9 C463.9,99.7 464.5,99.5 465.2,99.3 C465.9,99.2 466.5,98.9 467.2,98.8 C467.9,98.6 468.5,98.4 469.2,98.2 C469.9,98.1 470.5,97.9 471.2,97.8 C471.9,97.6 472.5,97.5 473.2,97.5 C473.9,97.4 474.5,97.3 475.2,97.3 C475.9,97.3 476.5,97.4 477.2,97.4 C477.9,97.4 478.5,97.5 479.2,97.6 C479.9,97.7 480.5,97.9 481.2,98.1 C481.9,98.2 482.5,98.4 483.2,98.6 C483.9,98.9 484.5,99.1 485.2,99.3 C485.9,99.6 486.5,99.9 487.2,100.1 C487.9,100.4 488.5,100.7 489.2,101 C489.9,101.2 490.5,101.5 491.2,101.8 C491.9,102.1 492.5,102.4 493.2,102.6 C493.9,102.9 494.5,103.2 495.2,103.4 C495.9,103.7 496.5,103.9 497.2,104.2 C497.9,104.4 498.5,104.6 499.2,104.8 C499.9,105 500.5,105.2 501.2,105.4 C501.9,105.6 502.5,105.8 503.2,105.9 C503.9,106.1 504.5,106.3 505.2,106.4 C505.9,106.5 506.5,106.7 507.2,106.8 C507.9,106.9 508.5,107 509.2,107.1 C509.9,107.2 510.5,107.3 511.2,107.4 C511.9,107.5 512.5,107.6 513.2,107.7 C513.9,107.8 514.5,107.8 515.2,107.9 C515.9,108 516.5,108 517.2,108.1 C517.9,108.2 518.5,108.2 519.2,108.3 C519.9,108.3 520.5,108.4 521.2,108.4 C521.9,108.5 522.5,108.5 523.2,108.6 C523.9,108.6 524.5,108.7 525.2,108.7 C525.9,108.7 526.5,108.8 527.2,108.8 C527.9,108.8 528.5,108.9 529.2,108.9 C529.9,108.9 530.5,109 531.2,109 C531.9,109 532.5,109.1 533.2,109.1 C533.9,109.1 534.5,109.1 535.2,109.2 C535.9,109.2 536.5,109.2 537.2,109.2 C537.9,109.3 538.5,109.3 539.2,109.3 C539.9,109.3 540.5,109.3 541.2,109.3 C541.9,109.4 542.5,109.4 543.2,109.4 C543.9,109.4 544.5,109.4 545.2,109.4 C545.9,109.4 546.5,109.4 547.2,109.5 C547.9,109.5 548.5,109.5 549.2,109.5 C549.9,109.5 550.5,109.5 551.2,109.5 C551.9,109.5 552.5,109.5 553.2,109.5 C553.9,109.5 554.5,109.5 555.2,109.5 C555.9,109.6 556.5,109.6 557.2,109.6 C557.9,109.6 558.5,109.6 559.2,109.6 C559.9,109.6 560.5,109.6 561.2,109.6 C561.9,109.6 562.5,109.6 563.2,109.6 C563.9,109.6 564.5,109.6 565.2,109.6 C565.9,109.6 566.5,109.6 567.2,109.6 C567.9,109.6 568.5,109.6 569.2,109.6 C569.9,109.6 570.5,109.6 571.2,109.6 C571.9,109.6 572.5,109.6 573.2,109.6 C573.9,109.7 574.5,109.7 575.2,109.7 C575.9,109.7 576.5,109.7 577.2,109.7 C577.9,109.7 578.5,109.7 579.2,109.7 C579.9,109.7 580.5,109.7 581.2,109.7 C581.9,109.7 582.5,109.7 583.2,109.7 C583.9,109.7 584.5,109.7 585.2,109.7 C585.9,109.7 586.5,109.7 587.2,109.7 C587.9,109.7 588.5,109.7 589.2,109.7 C589.9,109.7 590.5,109.7 591.2,109.7 C591.9,109.7 592.5,109.7 593.2,109.7 C593.9,109.7 594.5,109.7 595.2,109.7 C595.9,109.7 596.5,109.7 597.2,109.7 C597.9,109.7 598.5,109.7 599.2,109.7 C599.9,109.7 600.5,109.7 601.2,109.7 C601.9,109.8 602.5,109.8 603.2,109.8 C603.9,109.8 604.5,109.8 605.2,109.8 C605.9,109.8 606.5,109.8 607.2,109.8 C607.9,109.8 608.5,109.8 609.2,109.8 C609.9,109.8 610.5,109.8 611.2,109.8 C611.9,109.8 612.5,109.8 613.2,109.8 C613.9,109.8 614.5,109.8 615.2,109.8 C615.9,109.8 616.5,109.8 617.2,109.8 C617.9,109.8 618.5,109.8 619.2,109.8 C619.9,109.8 620.5,109.8 621.2,109.8 C621.9,109.8 622.5,109.8 623.2,109.8 C623.9,109.8 624.5,109.8 625.2,109.8 C625.9,109.8 626.5,109.8 627.2,109.8 C627.9,109.8 628.5,109.8 629.2,109.8 C629.9,109.8 630.5,109.9 631.2,109.9 C631.9,109.9 632.5,109.9 633.2,109.9 C633.9,109.9 634.5,109.9 635.2,109.9 C635.9,109.9 636.5,109.9 637.2,109.9 C637.9,109.9 638.5,109.9 639.2,109.9 C639.9,109.9 640.5,109.9 641.2,109.9 C641.9,109.9 642.5,109.9 643.2,109.9 C643.9,109.9 644.5,109.9 645.2,109.9 C645.9,109.9 646.5,109.9 647.2,109.9 C647.9,109.9 648.5,109.9 649.2,109.9 C649.9,109.9 650.5,109.9 651.2,109.9 C651.9,109.9 652.5,109.9 653.2,109.9 C653.9,109.9 654.5,109.9 655.2,109.9 C655.9,109.9 656.5,109.9 657.2,109.9 C657.7,109.9 658.3,109.9 658.8,109.9" fill="none" stroke="#33A02C" stroke-width="1.9" stroke-linejoin="round"/>
<path d="M387.2,147.4 C387.9,147.4 388.5,147.4 389.2,147.4 C389.9,147.4 390.5,147.4 391.2,147.4 C391.9,147.4 392.5,147.4 393.2,147.4 C393.9,147.4 394.5,147.4 395.2,147.4 C395.9,147.4 396.5,147.4 397.2,147.4 C397.9,147.4 398.5,147.4 399.2,147.4 C399.9,147.4 400.5,147.4 401.2,147.4 C401.9,147.3 402.5,147.3 403.2,147.3 C403.9,147.2 404.5,147.2 405.2,147.1 C405.9,147.1 406.5,147 407.2,146.9 C407.9,146.8 408.5,146.7 409.2,146.5 C409.9,146.3 410.5,146.1 411.2,145.9 C411.9,145.6 412.5,145.3 413.2,145 C413.9,144.6 414.5,144.2 415.2,143.7 C415.9,143.3 416.5,142.7 417.2,142.1 C417.9,141.6 418.5,140.9 419.2,140.2 C419.9,139.5 420.5,138.7 421.2,138 C421.9,137.2 422.5,136.4 423.2,135.6 C423.9,134.9 424.5,134.1 425.2,133.3 C425.9,132.6 426.5,131.9 427.2,131.3 C427.9,130.6 428.5,130 429.2,129.6 C429.9,129.1 430.5,128.7 431.2,128.5 C431.9,128.2 432.5,127.9 433.2,127.9 C433.9,127.9 434.5,127.9 435.2,128 C435.9,128 436.5,128.3 437.2,128.5 C437.9,128.8 438.5,129.2 439.2,129.5 C439.9,129.9 440.5,130.4 441.2,130.8 C441.9,131.3 442.5,131.8 443.2,132.3 C443.9,132.8 444.5,133.3 445.2,133.8 C445.9,134.3 446.5,134.8 447.2,135.2 C447.9,135.7 448.5,136.2 449.2,136.6 C449.9,137 450.5,137.4 451.2,137.7 C451.9,138 452.5,138.3 453.2,138.5 C453.9,138.8 454.5,139 455.2,139.1 C455.9,139.2 456.5,139.3 457.2,139.3 C457.9,139.3 458.5,139.3 459.2,139.3 C459.9,139.3 460.5,139.2 461.2,139 C461.9,138.9 462.5,138.7 463.2,138.6 C463.9,138.4 464.5,138.2 465.2,138 C465.9,137.8 466.5,137.6 467.2,137.4 C467.9,137.2 468.5,137 469.2,136.8 C469.9,136.7 470.5,136.5 471.2,136.4 C471.9,136.2 472.5,136.1 473.2,136 C473.9,136 474.5,135.9 475.2,135.9 C475.9,135.9 476.5,135.9 477.2,135.9 C477.9,135.9 478.5,136 479.2,136.1 C479.9,136.2 480.5,136.3 481.2,136.5 C481.9,136.6 482.5,136.8 483.2,137 C483.9,137.2 484.5,137.5 485.2,137.7 C485.9,138 486.5,138.2 487.2,138.5 C487.9,138.8 488.5,139.1 489.2,139.3 C489.9,139.6 490.5,139.9 491.2,140.2 C491.9,140.5 492.5,140.8 493.2,141.1 C493.9,141.4 494.5,141.7 495.2,141.9 C495.9,142.2 496.5,142.5 497.2,142.7 C497.9,143 498.5,143.2 499.2,143.4 C499.9,143.6 500.5,143.9 501.2,144.1 C501.9,144.3 502.5,144.4 503.2,144.6 C503.9,144.8 504.5,144.9 505.2,145.1 C505.9,145.2 506.5,145.4 507.2,145.5 C507.9,145.6 508.5,145.7 509.2,145.8 C509.9,145.9 510.5,146 511.2,146.1 C511.9,146.2 512.5,146.3 513.2,146.4 C513.9,146.4 514.5,146.5 515.2,146.6 C515.9,146.6 516.5,146.7 517.2,146.7 C517.9,146.8 518.5,146.8 519.2,146.9 C519.9,146.9 520.5,147 521.2,147 C521.9,147 522.5,147.1 523.2,147.1 C523.9,147.1 524.5,147.2 525.2,147.2 C525.9,147.2 526.5,147.2 527.2,147.3 C527.9,147.3 528.5,147.3 529.2,147.3 C529.9,147.4 530.5,147.4 531.2,147.4 C531.9,147.4 532.5,147.4 533.2,147.4 C533.9,147.5 534.5,147.5 535.2,147.5 C535.9,147.5 536.5,147.5 537.2,147.5 C537.9,147.6 538.5,147.6 539.2,147.6 C539.9,147.6 540.5,147.6 541.2,147.6 C541.9,147.6 542.5,147.6 543.2,147.6 C543.9,147.6 544.5,147.7 545.2,147.7 C545.9,147.7 546.5,147.7 547.2,147.7 C547.9,147.7 548.5,147.7 549.2,147.7 C549.9,147.7 550.5,147.7 551.2,147.7 C551.9,147.7 552.5,147.7 553.2,147.7 C553.9,147.7 554.5,147.7 555.2,147.7 C555.9,147.7 556.5,147.8 557.2,147.8 C557.9,147.8 558.5,147.8 559.2,147.8 C559.9,147.8 560.5,147.8 561.2,147.8 C561.9,147.8 562.5,147.8 563.2,147.8 C563.9,147.8 564.5,147.8 565.2,147.8 C565.9,147.8 566.5,147.8 567.2,147.8 C567.9,147.8 568.5,147.8 569.2,147.8 C569.9,147.8 570.5,147.8 571.2,147.8 C571.9,147.8 572.5,147.8 573.2,147.8 C573.9,147.8 574.5,147.8 575.2,147.8 C575.9,147.8 576.5,147.8 577.2,147.8 C577.9,147.8 578.5,147.8 579.2,147.8 C579.9,147.8 580.5,147.8 581.2,147.8 C581.9,147.8 582.5,147.8 583.2,147.8 C583.9,147.8 584.5,147.8 585.2,147.8 C585.9,147.8 586.5,147.8 587.2,147.8 C587.9,147.8 588.5,147.8 589.2,147.8 C589.9,147.8 590.5,147.8 591.2,147.9 C591.9,147.9 592.5,147.9 593.2,147.9 C593.9,147.9 594.5,147.9 595.2,147.9 C595.9,147.9 596.5,147.9 597.2,147.9 C597.9,147.9 598.5,147.9 599.2,147.9 C599.9,147.9 600.5,147.9 601.2,147.9 C601.9,147.9 602.5,147.9 603.2,147.9 C603.9,147.9 604.5,147.9 605.2,147.9 C605.9,147.9 606.5,147.9 607.2,147.9 C607.9,147.9 608.5,147.9 609.2,147.9 C609.9,147.9 610.5,147.9 611.2,147.9 C611.9,147.9 612.5,147.9 613.2,147.9 C613.9,147.9 614.5,147.9 615.2,147.9 C615.9,147.9 616.5,147.9 617.2,147.9 C617.9,147.9 618.5,147.9 619.2,147.9 C619.9,147.9 620.5,147.9 621.2,147.9 C621.9,147.9 622.5,147.9 623.2,147.9 C623.9,147.9 624.5,147.9 625.2,147.9 C625.9,147.9 626.5,147.9 627.2,147.9 C627.9,147.9 628.5,147.9 629.2,147.9 C629.9,147.9 630.5,147.9 631.2,147.9 C631.9,147.9 632.5,147.9 633.2,147.9 C633.9,147.9 634.5,147.9 635.2,147.9 C635.9,147.9 636.5,148 637.2,148 C637.9,148 638.5,148 639.2,148 C639.9,148 640.5,148 641.2,148 C641.9,148 642.5,148 643.2,148 C643.9,148 644.5,148 645.2,148 C645.9,148 646.5,148 647.2,148 C647.9,148 648.5,148 649.2,148 C649.9,148 650.5,148 651.2,148 C651.9,148 652.5,148 653.2,148 C653.9,148 654.5,148 655.2,148 C655.9,148 656.5,148 657.2,148 C657.7,148 658.3,148 658.8,148" fill="none" stroke="#FB9A99" stroke-width="1.9" stroke-linejoin="round"/>
<path d="M387.2,185.6 C387.9,185.6 388.5,185.6 389.2,185.6 C389.9,185.6 390.5,185.6 391.2,185.6 C391.9,185.6 392.5,185.6 393.2,185.6 C393.9,185.6 394.5,185.6 395.2,185.6 C395.9,185.6 396.5,185.6 397.2,185.6 C397.9,185.6 398.5,185.7 399.2,185.7 C399.9,185.7 400.5,185.7 401.2,185.7 C401.9,185.7 402.5,185.7 403.2,185.6 C403.9,185.6 404.5,185.6 405.2,185.6 C405.9,185.6 406.5,185.6 407.2,185.6 C407.9,185.6 408.5,185.6 409.2,185.6 C409.9,185.5 410.5,185.5 411.2,185.5 C411.9,185.4 412.5,185.4 413.2,185.4 C413.9,185.3 414.5,185.2 415.2,185.2 C415.9,185.1 416.5,185 417.2,184.9 C417.9,184.7 418.5,184.5 419.2,184.3 C419.9,184 420.5,183.6 421.2,183.1 C421.9,182.7 422.5,182 423.2,181.6 C423.9,181.2 424.5,180.7 425.2,180.5 C425.9,180.3 426.5,180.3 427.2,180.1 C427.9,179.9 428.5,179.7 429.2,179.4 C429.9,179.1 430.5,178.6 431.2,178.1 C431.9,177.5 432.5,176.9 433.2,176.2 C433.9,175.5 434.5,174.8 435.2,174.1 C435.9,173.3 436.5,172.6 437.2,171.8 C437.9,171 438.5,170.2 439.2,169.4 C439.9,168.6 440.5,167.7 441.2,167 C441.9,166.2 442.5,165.4 443.2,164.7 C443.9,163.9 444.5,163.2 445.2,162.6 C445.9,161.9 446.5,161.3 447.2,160.8 C447.9,160.3 448.5,159.8 449.2,159.4 C449.9,159 450.5,158.6 451.2,158.4 C451.9,158.2 452.5,158 453.2,158 C453.9,158 454.5,158 455.2,158.1 C455.9,158.2 456.5,158.5 457.2,158.8 C457.9,159.1 458.5,159.5 459.2,160 C459.9,160.5 460.5,161.2 461.2,161.8 C461.9,162.5 462.5,163.3 463.2,164.1 C463.9,164.9 464.5,165.8 465.2,166.6 C465.9,167.5 466.5,168.5 467.2,169.4 C467.9,170.3 468.5,171.3 469.2,172.2 C469.9,173 470.5,173.9 471.2,174.8 C471.9,175.6 472.5,176.4 473.2,177.1 C473.9,177.9 474.5,178.5 475.2,179.2 C475.9,179.8 476.5,180.3 477.2,180.8 C477.9,181.4 478.5,181.8 479.2,182.2 C479.9,182.6 480.5,183 481.2,183.3 C481.9,183.6 482.5,183.9 483.2,184.1 C483.9,184.3 484.5,184.5 485.2,184.7 C485.9,184.9 486.5,185 487.2,185.2 C487.9,185.3 488.5,185.4 489.2,185.5 C489.9,185.6 490.5,185.6 491.2,185.7 C491.9,185.8 492.5,185.8 493.2,185.9 C493.9,185.9 494.5,186 495.2,186 C495.9,186 496.5,186 497.2,186.1 C497.9,186.1 498.5,186.1 499.2,186.1 C499.9,186.1 500.5,186.1 501.2,186.1 C501.9,186.2 502.5,186.2 503.2,186.2 C503.9,186.2 504.5,186.2 505.2,186.2 C505.9,186.2 506.5,186.2 507.2,186.2 C507.9,186.2 508.5,186.2 509.2,186.2 C509.9,186.2 510.5,186.2 511.2,186.2 C511.9,186.2 512.5,186.2 513.2,186.2 C513.9,186.3 514.5,186.3 515.2,186.3 C515.9,186.3 516.5,186.3 517.2,186.3 C517.9,186.3 518.5,186.3 519.2,186.3 C519.9,186.3 520.5,186.3 521.2,186.3 C521.9,186.3 522.5,186.3 523.2,186.3 C523.9,186.3 524.5,186.3 525.2,186.3 C525.9,186.3 526.5,186.3 527.2,186.3 C527.9,186.3 528.5,186.3 529.2,186.3 C529.9,186.3 530.5,186.3 531.2,186.3 C531.9,186.3 532.5,186.3 533.2,186.4 C533.9,186.4 534.5,186.4 535.2,186.4 C535.9,186.4 536.5,186.4 537.2,186.4 C537.9,186.4 538.5,186.4 539.2,186.4 C539.9,186.4 540.5,186.4 541.2,186.4 C541.9,186.4 542.5,186.4 543.2,186.4 C543.9,186.4 544.5,186.4 545.2,186.4 C545.9,186.4 546.5,186.4 547.2,186.4 C547.9,186.4 548.5,186.4 549.2,186.4 C549.9,186.4 550.5,186.4 551.2,186.4 C551.9,186.4 552.5,186.5 553.2,186.5 C553.9,186.5 554.5,186.5 555.2,186.5 C555.9,186.5 556.5,186.5 557.2,186.5 C557.9,186.5 558.5,186.5 559.2,186.5 C559.9,186.5 560.5,186.5 561.2,186.5 C561.9,186.5 562.5,186.5 563.2,186.5 C563.9,186.5 564.5,186.5 565.2,186.5 C565.9,186.5 566.5,186.5 567.2,186.5 C567.9,186.5 568.5,186.5 569.2,186.5 C569.9,186.5 570.5,186.5 571.2,186.5 C571.9,186.6 572.5,186.6 573.2,186.6 C573.9,186.6 574.5,186.6 575.2,186.6 C575.9,186.6 576.5,186.6 577.2,186.6 C577.9,186.6 578.5,186.6 579.2,186.6 C579.9,186.6 580.5,186.6 581.2,186.6 C581.9,186.6 582.5,186.6 583.2,186.6 C583.9,186.6 584.5,186.6 585.2,186.6 C585.9,186.6 586.5,186.6 587.2,186.6 C587.9,186.6 588.5,186.6 589.2,186.6 C589.9,186.6 590.5,186.6 591.2,186.7 C591.9,186.7 592.5,186.7 593.2,186.7 C593.9,186.7 594.5,186.7 595.2,186.7 C595.9,186.7 596.5,186.7 597.2,186.7 C597.9,186.7 598.5,186.7 599.2,186.7 C599.9,186.7 600.5,186.7 601.2,186.7 C601.9,186.7 602.5,186.7 603.2,186.7 C603.9,186.7 604.5,186.7 605.2,186.7 C605.9,186.7 606.5,186.7 607.2,186.7 C607.9,186.7 608.5,186.7 609.2,186.7 C609.9,186.7 610.5,186.8 611.2,186.8 C611.9,186.8 612.5,186.8 613.2,186.8 C613.9,186.8 614.5,186.8 615.2,186.8 C615.9,186.8 616.5,186.8 617.2,186.8 C617.9,186.8 618.5,186.8 619.2,186.8 C619.9,186.8 620.5,186.8 621.2,186.8 C621.9,186.8 622.5,186.8 623.2,186.8 C623.9,186.8 624.5,186.8 625.2,186.8 C625.9,186.8 626.5,186.8 627.2,186.8 C627.9,186.8 628.5,186.8 629.2,186.8 C629.9,186.9 630.5,186.9 631.2,186.9 C631.9,186.9 632.5,186.9 633.2,186.9 C633.9,186.9 634.5,186.9 635.2,186.9 C635.9,186.9 636.5,186.9 637.2,186.9 C637.9,186.9 638.5,186.9 639.2,186.9 C639.9,186.9 640.5,186.9 641.2,186.9 C641.9,186.9 642.5,186.9 643.2,186.9 C643.9,186.9 644.5,186.9 645.2,186.9 C645.9,186.9 646.5,186.9 647.2,186.9 C647.9,186.9 648.5,186.9 649.2,187 C649.9,187 650.5,187 651.2,187 C651.9,187 652.5,187 653.2,187 C653.9,187 654.5,187 655.2,187 C655.9,187 656.5,187 657.2,187 C657.7,187 658.3,187 658.8,187" fill="none" stroke="#E31A1C" stroke-width="1.9" stroke-dasharray="6.85 6.85" stroke-dashoffset="12.62" stroke-linejoin="round"/>
<path d="M387.2,186.3 C387.9,186.3 388.5,186.3 389.2,186.3 C389.9,186.3 390.5,186.3 391.2,186.3 C391.9,186.3 392.5,186.3 393.2,186.3 C393.9,186.3 394.5,186.3 395.2,186.3 C395.9,186.3 396.5,186.3 397.2,186.3 C397.9,186.3 398.5,186.3 399.2,186.3 C399.9,186.3 400.5,186.3 401.2,186.3 C401.9,186.3 402.5,186.3 403.2,186.3 C403.9,186.3 404.5,186.3 405.2,186.3 C405.9,186.3 406.5,186.3 407.2,186.3 C407.9,186.3 408.5,186.3 409.2,186.3 C409.9,186.3 410.5,186.4 411.2,186.4 C411.9,186.4 412.5,186.4 413.2,186.4 C413.9,186.4 414.5,186.4 415.2,186.4 C415.9,186.4 416.5,186.4 417.2,186.4 C417.9,186.4 418.5,186.4 419.2,186.4 C419.9,186.4 420.5,186.4 421.2,186.4 C421.9,186.4 422.5,186.4 423.2,186.4 C423.9,186.4 424.5,186.4 425.2,186.4 C425.9,186.4 426.5,186.4 427.2,186.4 C427.9,186.4 428.5,186.4 429.2,186.4 C429.9,186.4 430.5,186.4 431.2,186.4 C431.9,186.4 432.5,186.4 433.2,186.4 C433.9,186.3 434.5,186.3 435.2,186.3 C435.9,186.3 436.5,186.3 437.2,186.3 C437.9,186.3 438.5,186.3 439.2,186.3 C439.9,186.2 440.5,186.2 441.2,186.2 C441.9,186.2 442.5,186.1 443.2,186.1 C443.9,186.1 444.5,186.1 445.2,186 C445.9,186 446.5,185.9 447.2,185.9 C447.9,185.8 448.5,185.8 449.2,185.7 C449.9,185.6 450.5,185.5 451.2,185.5 C451.9,185.4 452.5,185.3 453.2,185.2 C453.9,185.1 454.5,185 455.2,184.8 C455.9,184.7 456.5,184.6 457.2,184.4 C457.9,184.3 458.5,184.1 459.2,183.9 C459.9,183.8 460.5,183.6 461.2,183.4 C461.9,183.2 462.5,183 463.2,182.8 C463.9,182.5 464.5,182.3 465.2,182.1 C465.9,181.8 466.5,181.6 467.2,181.3 C467.9,181.1 468.5,180.8 469.2,180.5 C469.9,180.2 470.5,180 471.2,179.7 C471.9,179.4 472.5,179.1 473.2,178.9 C473.9,178.6 474.5,178.3 475.2,178 C475.9,177.8 476.5,177.5 477.2,177.3 C477.9,177 478.5,176.8 479.2,176.5 C479.9,176.3 480.5,176.1 481.2,175.9 C481.9,175.7 482.5,175.6 483.2,175.4 C483.9,175.3 484.5,175.1 485.2,175 C485.9,174.9 486.5,174.8 487.2,174.8 C487.9,174.7 488.5,174.7 489.2,174.7 C489.9,174.7 490.5,174.7 491.2,174.8 C491.9,174.8 492.5,174.9 493.2,175 C493.9,175.1 494.5,175.2 495.2,175.3 C495.9,175.4 496.5,175.6 497.2,175.8 C497.9,175.9 498.5,176.1 499.2,176.3 C499.9,176.5 500.5,176.7 501.2,177 C501.9,177.2 502.5,177.4 503.2,177.6 C503.9,177.9 504.5,178.1 505.2,178.3 C505.9,178.5 506.5,178.8 507.2,179 C507.9,179.2 508.5,179.5 509.2,179.7 C509.9,179.9 510.5,180.1 511.2,180.3 C511.9,180.5 512.5,180.7 513.2,180.9 C513.9,181.1 514.5,181.3 515.2,181.4 C515.9,181.6 516.5,181.7 517.2,181.9 C517.9,182 518.5,182.2 519.2,182.3 C519.9,182.4 520.5,182.5 521.2,182.6 C521.9,182.7 522.5,182.8 523.2,182.9 C523.9,183 524.5,183 525.2,183.1 C525.9,183.2 526.5,183.2 527.2,183.2 C527.9,183.3 528.5,183.3 529.2,183.4 C529.9,183.4 530.5,183.4 531.2,183.4 C531.9,183.4 532.5,183.5 533.2,183.5 C533.9,183.5 534.5,183.5 535.2,183.5 C535.9,183.5 536.5,183.4 537.2,183.4 C537.9,183.4 538.5,183.4 539.2,183.4 C539.9,183.3 540.5,183.3 541.2,183.3 C541.9,183.3 542.5,183.2 543.2,183.2 C543.9,183.2 544.5,183.1 545.2,183.1 C545.9,183 546.5,183 547.2,183 C547.9,182.9 548.5,182.9 549.2,182.8 C549.9,182.8 550.5,182.7 551.2,182.6 C551.9,182.6 552.5,182.5 553.2,182.5 C553.9,182.4 554.5,182.4 555.2,182.3 C555.9,182.2 556.5,182.2 557.2,182.1 C557.9,182 558.5,182 559.2,181.9 C559.9,181.8 560.5,181.8 561.2,181.7 C561.9,181.6 562.5,181.6 563.2,181.5 C563.9,181.5 564.5,181.4 565.2,181.3 C565.9,181.3 566.5,181.2 567.2,181.1 C567.9,181.1 568.5,181 569.2,181 C569.9,180.9 570.5,180.9 571.2,180.8 C571.9,180.8 572.5,180.7 573.2,180.7 C573.9,180.6 574.5,180.6 575.2,180.6 C575.9,180.5 576.5,180.5 577.2,180.5 C577.9,180.5 578.5,180.4 579.2,180.4 C579.9,180.4 580.5,180.4 581.2,180.4 C581.9,180.4 582.5,180.4 583.2,180.4 C583.9,180.4 584.5,180.4 585.2,180.4 C585.9,180.4 586.5,180.4 587.2,180.5 C587.9,180.5 588.5,180.5 589.2,180.5 C589.9,180.6 590.5,180.6 591.2,180.7 C591.9,180.7 592.5,180.7 593.2,180.8 C593.9,180.8 594.5,180.9 595.2,181 C595.9,181 596.5,181.1 597.2,181.2 C597.9,181.2 598.5,181.3 599.2,181.4 C599.9,181.4 600.5,181.5 601.2,181.6 C601.9,181.7 602.5,181.8 603.2,181.9 C603.9,181.9 604.5,182 605.2,182.1 C605.9,182.2 606.5,182.3 607.2,182.4 C607.9,182.5 608.5,182.6 609.2,182.7 C609.9,182.8 610.5,182.8 611.2,182.9 C611.9,183 612.5,183.1 613.2,183.2 C613.9,183.3 614.5,183.4 615.2,183.5 C615.9,183.6 616.5,183.7 617.2,183.8 C617.9,183.9 618.5,183.9 619.2,184 C619.9,184.1 620.5,184.2 621.2,184.3 C621.9,184.4 622.5,184.5 623.2,184.5 C623.9,184.6 624.5,184.7 625.2,184.8 C625.9,184.8 626.5,184.9 627.2,185 C627.9,185.1 628.5,185.1 629.2,185.2 C629.9,185.3 630.5,185.3 631.2,185.4 C631.9,185.4 632.5,185.5 633.2,185.6 C633.9,185.6 634.5,185.7 635.2,185.7 C635.9,185.8 636.5,185.8 637.2,185.9 C637.9,185.9 638.5,186 639.2,186 C639.9,186.1 640.5,186.1 641.2,186.1 C641.9,186.2 642.5,186.2 643.2,186.2 C643.9,186.3 644.5,186.3 645.2,186.3 C645.9,186.4 646.5,186.4 647.2,186.4 C647.9,186.4 648.5,186.5 649.2,186.5 C649.9,186.5 650.5,186.5 651.2,186.6 C651.9,186.6 652.5,186.6 653.2,186.6 C653.9,186.6 654.5,186.7 655.2,186.7 C655.9,186.7 656.5,186.7 657.2,186.7 C657.7,186.7 658.3,186.7 658.8,186.7" fill="none" stroke="#FDBF6F" stroke-width="1.9" stroke-linejoin="round"/>
<path d="M438,225 C438.7,225 439.3,225 440,225 C440.7,225 441.3,224.9 442,224.9 C442.7,224.9 443.3,224.9 444,224.9 C444.7,224.9 445.3,224.9 446,224.8 C446.7,224.8 447.3,224.8 448,224.7 C448.7,224.7 449.3,224.7 450,224.6 C450.7,224.6 451.3,224.5 452,224.5 C452.7,224.4 453.3,224.3 454,224.3 C454.7,224.2 455.3,224.1 456,224 C456.7,223.9 457.3,223.9 458,223.8 C458.7,223.7 459.3,223.6 460,223.5 C460.7,223.4 461.3,223.3 462,223.2 C462.7,223.1 463.3,223 464,222.9 C464.7,222.8 465.3,222.7 466,222.6 C466.7,222.5 467.3,222.4 468,222.3 C468.7,222.2 469.3,222.1 470,222 C470.7,222 471.3,221.9 472,221.8 C472.7,221.7 473.3,221.6 474,221.5 C474.7,221.4 475.3,221.3 476,221.2 C476.7,221 477.3,220.9 478,220.7 C478.7,220.6 479.3,220.4 480,220.2 C480.7,220.1 481.3,219.9 482,219.7 C482.7,219.4 483.3,219.2 484,219 C484.7,218.8 485.3,218.5 486,218.3 C486.7,218 487.3,217.8 488,217.5 C488.7,217.3 489.3,217 490,216.8 C490.7,216.5 491.3,216.3 492,216 C492.7,215.8 493.3,215.6 494,215.3 C494.7,215.1 495.3,214.9 496,214.7 C496.7,214.5 497.3,214.2 498,214 C498.7,213.8 499.3,213.6 500,213.4 C500.7,213.2 501.3,213 502,212.7 C502.7,212.5 503.3,212.3 504,212.1 C504.7,211.8 505.3,211.6 506,211.3 C506.7,211.1 507.3,210.8 508,210.6 C508.7,210.3 509.3,210.1 510,209.8 C510.7,209.6 511.3,209.4 512,209.1 C512.7,208.9 513.3,208.7 514,208.5 C514.7,208.2 515.3,208 516,207.9 C516.7,207.7 517.3,207.5 518,207.4 C518.7,207.3 519.3,207.2 520,207.1 C520.7,207 521.3,206.9 522,206.9 C522.7,206.9 523.3,207 524,207 C524.7,207 525.3,207.1 526,207.2 C526.7,207.3 527.3,207.4 528,207.6 C528.7,207.7 529.3,207.9 530,208.1 C530.7,208.3 531.3,208.6 532,208.8 C532.7,209.1 533.3,209.4 534,209.7 C534.7,210 535.3,210.3 536,210.6 C536.7,211 537.3,211.3 538,211.7 C538.7,212 539.3,212.4 540,212.8 C540.7,213.1 541.3,213.5 542,213.9 C542.7,214.3 543.3,214.7 544,215 C544.7,215.4 545.3,215.8 546,216.1 C546.7,216.5 547.3,216.9 548,217.2 C548.7,217.5 549.3,217.9 550,218.2 C550.7,218.5 551.3,218.8 552,219.2 C552.7,219.5 553.3,219.7 554,220 C554.7,220.3 555.3,220.6 556,220.8 C556.7,221 557.3,221.3 558,221.5 C558.7,221.7 559.3,221.9 560,222.1 C560.7,222.3 561.3,222.5 562,222.6 C562.7,222.8 563.3,223 564,223.1 C564.7,223.2 565.3,223.4 566,223.5 C566.7,223.6 567.3,223.7 568,223.8 C568.7,223.9 569.3,224 570,224.1 C570.7,224.1 571.3,224.2 572,224.3 C572.7,224.3 573.3,224.4 574,224.4 C574.7,224.5 575.3,224.5 576,224.6 C576.7,224.6 577.3,224.7 578,224.7 C578.7,224.7 579.3,224.7 580,224.8 C580.7,224.8 581.3,224.8 582,224.8 C582.7,224.8 583.3,224.9 584,224.9 C584.7,224.9 585.3,224.9 586,224.9 C586.7,224.9 587.3,224.9 588,224.9 C588.7,224.9 589.3,224.9 590,225 C590.7,225 591.3,225 592,225 C592.7,225 593.3,225 594,225 C594.7,225 595.3,225 596,225 C596.7,225 597.3,225 598,225 C598.7,225 599.3,225 600,225 C600.7,225 601.3,225 602,225 C602.7,225 603.3,225 604,225 C604.7,225 605.3,225 606,225 C606.7,225 607.3,225 608,225 C608.7,225 609.3,225 610,225 C610.7,225 611.3,225 612,225 C612.7,225 613.3,225 614,225 C614.7,225 615.3,225 616,225 C616.7,225 617.3,225 618,225 C618.7,225 619.3,225 620,225 C620.7,225 621.3,225 622,225 C622.7,225 623.3,225 624,225 C624.7,225 625.3,225 626,225 C626.7,225 627.3,225 628,225 C628.7,225 629.3,225 630,225 C630.7,225 631.3,225 632,225 C632.7,225 633.3,225 634,225 C634.7,225 635.3,225 636,225 C636.7,225 637.3,225 638,225 C638.7,225 639.3,225 640,225 C640.7,225 641.3,225 642,225 C642.7,225 643.3,225 644,225 C644.7,225 645.3,225 646,225 C646.7,225 647.3,225 648,225 C648.7,225 649.3,225 650,225 C650.7,225 651.3,225 652,225 C652.7,225 653.3,225 654,225 C654.7,225 655.3,225 656,225 C656.7,225 657.3,225 658,225 C658.3,225 658.5,225 658.8,225" fill="none" stroke="#FF7F00" stroke-width="1.9" stroke-dasharray="1.8 5.05" stroke-dashoffset="2.86" stroke-linejoin="round"/>
<path d="M387.2,224.7 C387.9,224.7 388.5,224.7 389.2,224.7 C389.9,224.7 390.5,224.7 391.2,224.7 C391.9,224.7 392.5,224.7 393.2,224.7 C393.9,224.7 394.5,224.7 395.2,224.7 C395.9,224.7 396.5,224.7 397.2,224.7 C397.9,224.7 398.5,224.7 399.2,224.7 C399.9,224.7 400.5,224.7 401.2,224.7 C401.9,224.7 402.5,224.7 403.2,224.7 C403.9,224.7 404.5,224.7 405.2,224.7 C405.9,224.7 406.5,224.7 407.2,224.7 C407.9,224.7 408.5,224.7 409.2,224.7 C409.9,224.7 410.5,224.7 411.2,224.7 C411.9,224.7 412.5,224.7 413.2,224.7 C413.9,224.7 414.5,224.7 415.2,224.7 C415.9,224.7 416.5,224.7 417.2,224.7 C417.9,224.7 418.5,224.7 419.2,224.7 C419.9,224.7 420.5,224.7 421.2,224.7 C421.9,224.7 422.5,224.6 423.2,224.6 C423.9,224.6 424.5,224.6 425.2,224.6 C425.9,224.6 426.5,224.6 427.2,224.6 C427.9,224.6 428.5,224.6 429.2,224.6 C429.9,224.5 430.5,224.5 431.2,224.5 C431.9,224.5 432.5,224.5 433.2,224.4 C433.9,224.4 434.5,224.4 435.2,224.3 C435.9,224.3 436.5,224.3 437.2,224.2 C437.9,224.2 438.5,224.1 439.2,224.1 C439.9,224 440.5,224 441.2,223.9 C441.9,223.8 442.5,223.7 443.2,223.6 C443.9,223.5 444.5,223.4 445.2,223.3 C445.9,223.2 446.5,223.1 447.2,223 C447.9,222.8 448.5,222.7 449.2,222.5 C449.9,222.4 450.5,222.2 451.2,222 C451.9,221.8 452.5,221.6 453.2,221.4 C453.9,221.2 454.5,220.9 455.2,220.7 C455.9,220.4 456.5,220.2 457.2,219.9 C457.9,219.7 458.5,219.4 459.2,219.1 C459.9,218.8 460.5,218.5 461.2,218.2 C461.9,217.9 462.5,217.6 463.2,217.3 C463.9,217.1 464.5,216.8 465.2,216.5 C465.9,216.2 466.5,215.9 467.2,215.6 C467.9,215.3 468.5,215.1 469.2,214.8 C469.9,214.6 470.5,214.3 471.2,214.1 C471.9,213.9 472.5,213.7 473.2,213.6 C473.9,213.4 474.5,213.2 475.2,213.1 C475.9,213 476.5,212.9 477.2,212.9 C477.9,212.8 478.5,212.8 479.2,212.8 C479.9,212.8 480.5,212.8 481.2,212.9 C481.9,212.9 482.5,213 483.2,213.1 C483.9,213.2 484.5,213.4 485.2,213.5 C485.9,213.7 486.5,213.9 487.2,214.1 C487.9,214.3 488.5,214.5 489.2,214.7 C489.9,215 490.5,215.2 491.2,215.5 C491.9,215.7 492.5,216 493.2,216.2 C493.9,216.5 494.5,216.8 495.2,217 C495.9,217.3 496.5,217.5 497.2,217.8 C497.9,218 498.5,218.3 499.2,218.5 C499.9,218.8 500.5,219 501.2,219.2 C501.9,219.4 502.5,219.6 503.2,219.8 C503.9,220 504.5,220.2 505.2,220.3 C505.9,220.5 506.5,220.6 507.2,220.8 C507.9,220.9 508.5,221 509.2,221.1 C509.9,221.2 510.5,221.3 511.2,221.4 C511.9,221.5 512.5,221.5 513.2,221.6 C513.9,221.6 514.5,221.7 515.2,221.7 C515.9,221.7 516.5,221.8 517.2,221.8 C517.9,221.8 518.5,221.8 519.2,221.8 C519.9,221.8 520.5,221.8 521.2,221.8 C521.9,221.8 522.5,221.7 523.2,221.7 C523.9,221.7 524.5,221.6 525.2,221.6 C525.9,221.5 526.5,221.5 527.2,221.4 C527.9,221.4 528.5,221.3 529.2,221.3 C529.9,221.2 530.5,221.1 531.2,221.1 C531.9,221 532.5,220.9 533.2,220.9 C533.9,220.8 534.5,220.7 535.2,220.6 C535.9,220.6 536.5,220.5 537.2,220.4 C537.9,220.3 538.5,220.2 539.2,220.2 C539.9,220.1 540.5,220 541.2,219.9 C541.9,219.8 542.5,219.7 543.2,219.7 C543.9,219.6 544.5,219.5 545.2,219.4 C545.9,219.3 546.5,219.3 547.2,219.2 C547.9,219.1 548.5,219 549.2,219 C549.9,218.9 550.5,218.8 551.2,218.7 C551.9,218.7 552.5,218.6 553.2,218.6 C553.9,218.5 554.5,218.5 555.2,218.4 C555.9,218.4 556.5,218.3 557.2,218.3 C557.9,218.2 558.5,218.2 559.2,218.2 C559.9,218.2 560.5,218.1 561.2,218.1 C561.9,218.1 562.5,218.1 563.2,218.1 C563.9,218.1 564.5,218.1 565.2,218.1 C565.9,218.1 566.5,218.2 567.2,218.2 C567.9,218.2 568.5,218.3 569.2,218.3 C569.9,218.3 570.5,218.4 571.2,218.4 C571.9,218.5 572.5,218.6 573.2,218.6 C573.9,218.7 574.5,218.8 575.2,218.8 C575.9,218.9 576.5,219 577.2,219.1 C577.9,219.2 578.5,219.3 579.2,219.4 C579.9,219.5 580.5,219.6 581.2,219.7 C581.9,219.8 582.5,219.9 583.2,220 C583.9,220.1 584.5,220.2 585.2,220.3 C585.9,220.4 586.5,220.5 587.2,220.6 C587.9,220.7 588.5,220.8 589.2,221 C589.9,221.1 590.5,221.2 591.2,221.3 C591.9,221.4 592.5,221.5 593.2,221.6 C593.9,221.7 594.5,221.8 595.2,221.9 C595.9,222.1 596.5,222.2 597.2,222.3 C597.9,222.4 598.5,222.5 599.2,222.5 C599.9,222.6 600.5,222.7 601.2,222.8 C601.9,222.9 602.5,223 603.2,223.1 C603.9,223.2 604.5,223.2 605.2,223.3 C605.9,223.4 606.5,223.5 607.2,223.5 C607.9,223.6 608.5,223.7 609.2,223.7 C609.9,223.8 610.5,223.9 611.2,223.9 C611.9,224 612.5,224 613.2,224.1 C613.9,224.1 614.5,224.2 615.2,224.2 C615.9,224.3 616.5,224.3 617.2,224.3 C617.9,224.4 618.5,224.4 619.2,224.4 C619.9,224.5 620.5,224.5 621.2,224.5 C621.9,224.6 622.5,224.6 623.2,224.6 C623.9,224.6 624.5,224.7 625.2,224.7 C625.9,224.7 626.5,224.7 627.2,224.7 C627.9,224.7 628.5,224.8 629.2,224.8 C629.9,224.8 630.5,224.8 631.2,224.8 C631.9,224.8 632.5,224.8 633.2,224.9 C633.9,224.9 634.5,224.9 635.2,224.9 C635.9,224.9 636.5,224.9 637.2,224.9 C637.9,224.9 638.5,224.9 639.2,224.9 C639.9,224.9 640.5,224.9 641.2,224.9 C641.9,224.9 642.5,224.9 643.2,224.9 C643.9,225 644.5,225 645.2,225 C645.9,225 646.5,225 647.2,225 C647.9,225 648.5,225 649.2,225 C649.9,225 650.5,225 651.2,225 C651.9,225 652.5,225 653.2,225 C653.9,225 654.5,225 655.2,225 C655.9,225 656.5,225 657.2,225 C657.7,225 658.3,225 658.8,225" fill="none" stroke="#CAB2D6" stroke-width="1.9" stroke-linejoin="round"/>
<path d="M26.2,304.3 C26.7,304.3 27.2,304.3 27.7,304.3 C28.2,304.3 28.7,304.3 29.2,304.3 C29.7,304.3 30.2,304.3 30.7,304.3 C31.2,304.3 31.7,304.3 32.2,304.3 C32.7,304.3 33.2,304.3 33.7,304.3 C34.2,304.3 34.7,304.3 35.2,304.3 C35.7,304.3 36.2,304.3 36.7,304.3 C37.2,304.3 37.7,304.3 38.2,304.3 C38.7,304.3 39.2,304.3 39.7,304.3 C40.2,304.3 40.7,304.3 41.2,304.3 C41.7,304.3 42.2,304.3 42.7,304.3 C43.2,304.3 43.7,304.3 44.2,304.3 C44.7,304.3 45.2,304.3 45.7,304.3 C46.2,304.3 46.7,304.3 47.2,304.4 C47.7,304.4 48.2,304.4 48.7,304.4 C49.2,304.4 49.7,304.4 50.2,304.4 C50.7,304.4 51.2,304.4 51.7,304.4 C52.2,304.4 52.7,304.5 53.2,304.5 C53.7,304.5 54.2,304.5 54.7,304.5 C55.2,304.5 55.7,304.6 56.2,304.6 C56.7,304.6 57.2,304.6 57.7,304.7 C58.2,304.7 58.7,304.7 59.2,304.8 C59.7,304.8 60.2,304.8 60.7,304.9 C61.2,304.9 61.7,304.9 62.2,305 C62.7,305 63.2,305.1 63.7,305.1 C64.2,305.2 64.7,305.2 65.2,305.3 C65.7,305.3 66.2,305.4 66.7,305.4 C67.2,305.5 67.7,305.6 68.2,305.6 C68.7,305.7 69.2,305.7 69.7,305.8 C70.2,305.9 70.7,305.9 71.2,306 C71.7,306.1 72.2,306.1 72.7,306.2 C73.2,306.3 73.7,306.4 74.2,306.4 C74.7,306.5 75.2,306.6 75.7,306.7 C76.2,306.7 76.7,306.8 77.2,306.9 C77.7,307 78.2,307 78.7,307.1 C79.2,307.2 79.7,307.3 80.2,307.3 C80.7,307.4 81.2,307.5 81.7,307.6 C82.2,307.7 82.7,307.7 83.2,307.8 C83.7,307.9 84.2,308 84.7,308.1 C85.2,308.2 85.7,308.2 86.2,308.3 C86.7,308.4 87.2,308.5 87.7,308.6 C88.2,308.7 88.7,308.8 89.2,308.9 C89.7,309 90.2,309.1 90.7,309.2 C91.2,309.3 91.7,309.5 92.2,309.6 C92.7,309.7 93.2,309.8 93.7,309.9 C94.2,310.1 94.7,310.2 95.2,310.3 C95.7,310.5 96.2,310.6 96.7,310.8 C97.2,310.9 97.7,311.1 98.2,311.2 C98.7,311.4 99.2,311.6 99.7,311.7 C100.2,311.9 100.7,312.1 101.2,312.3 C101.7,312.5 102.2,312.7 102.7,312.9 C103.2,313.1 103.7,313.3 104.2,313.5 C104.7,313.7 105.2,313.9 105.7,314.1 C106.2,314.4 106.7,314.6 107.2,314.8 C107.7,315.1 108.2,315.3 108.7,315.6 C109.2,315.9 109.7,316.1 110.2,316.4 C110.7,316.7 111.2,316.9 111.7,317.2 C112.2,317.5 112.7,317.8 113.2,318.1 C113.7,318.4 114.2,318.7 114.7,319.1 C115.2,319.4 115.7,319.7 116.2,320 C116.7,320.4 117.2,320.7 117.7,321.1 C118.2,321.4 118.7,321.8 119.2,322.2 C119.7,322.5 120.2,322.9 120.7,323.3 C121.2,323.7 121.7,324.1 122.2,324.5 C122.7,324.9 123.2,325.3 123.7,325.7 C124.2,326.1 124.7,326.6 125.2,327 C125.7,327.5 126.2,327.9 126.7,328.4 C127.2,328.8 127.7,329.3 128.2,329.8 C128.7,330.2 129.2,330.7 129.7,331.2 C130.2,331.7 130.7,332.2 131.2,332.7 C131.7,333.3 132.2,333.8 132.7,334.3 C133.2,334.9 133.7,335.4 134.2,336 C134.7,336.5 135.2,337.1 135.7,337.7 C136.2,338.3 136.7,338.9 137.2,339.5 C137.7,340.1 138.2,340.7 138.7,341.4 C139.2,342 139.7,342.6 140.2,343.3 C140.7,344 141.2,344.6 141.7,345.3 C142.2,346 142.7,346.7 143.2,347.4 C143.7,348.1 144.2,348.8 144.7,349.6 C145.2,350.3 145.7,351.1 146.2,351.8 C146.7,352.6 147.2,353.4 147.7,354.1 C148.2,354.9 148.7,355.7 149.2,356.5 C149.7,357.3 150.2,358.1 150.7,359 C151.2,359.8 151.7,360.6 152.2,361.5 C152.7,362.3 153.2,363.2 153.7,364 C154.2,364.9 154.7,365.8 155.2,366.7 C155.7,367.5 156.2,368.4 156.7,369.3 C157.2,370.2 157.7,371.1 158.2,372 C158.7,372.9 159.2,373.8 159.7,374.7 C160.2,375.7 160.7,376.6 161.2,377.5 C161.7,378.5 162.2,379.4 162.7,380.3 C163.2,381.3 163.7,382.2 164.2,383.2 C164.7,384.1 165.2,385.1 165.7,386.1 C166.2,387 166.7,388 167.2,389 C167.7,390 168.2,390.9 168.7,391.9 C169.2,392.9 169.7,393.9 170.2,394.8 C170.7,395.8 171.2,396.8 171.7,397.7 C172.2,398.7 172.7,399.6 173.2,400.5 C173.7,401.5 174.2,402.4 174.7,403.3 C175.2,404.1 175.7,405 176.2,405.8 C176.7,406.7 177.2,407.5 177.7,408.3 C178.2,409 178.7,409.8 179.2,410.5 C179.7,411.2 180.2,411.9 180.7,412.5 C181.2,413.1 181.7,413.7 182.2,414.3 C182.7,414.8 183.2,415.4 183.7,415.8 C184.2,416.3 184.7,416.8 185.2,417.2 C185.7,417.6 186.2,418 186.7,418.3 C187.2,418.7 187.7,419 188.2,419.3 C188.7,419.6 189.2,419.8 189.7,420.1 C190.2,420.3 190.7,420.5 191.2,420.7 C191.7,420.9 192.2,421.1 192.7,421.3 C193.2,421.5 193.7,421.6 194.2,421.7 C194.7,421.9 195.2,422 195.7,422.1 C196.2,422.2 196.7,422.3 197.2,422.4 C197.7,422.5 198.2,422.6 198.7,422.7 C199.2,422.8 199.7,422.8 200.2,422.9 C200.7,423 201.2,423 201.7,423.1 C202.2,423.1 202.7,423.2 203.2,423.2 C203.7,423.2 204.2,423.3 204.7,423.3 C205.2,423.4 205.7,423.4 206.2,423.4 C206.7,423.5 207.2,423.5 207.7,423.5 C208.2,423.5 208.7,423.6 209.2,423.6 C209.7,423.6 210.2,423.6 210.7,423.6 C211.2,423.6 211.7,423.7 212.2,423.7 C212.7,423.7 213.2,423.7 213.7,423.7 C214.2,423.7 214.7,423.7 215.2,423.7 C215.7,423.8 216.2,423.8 216.7,423.8 C217.2,423.8 217.7,423.8 218.2,423.8 C218.7,423.8 219.2,423.8 219.7,423.8 C219.8,423.8 219.9,423.8 220,423.8" fill="none" stroke="#A6CEE3" stroke-width="1.9" stroke-dasharray="1.8 5.05" stroke-dashoffset="3.95" stroke-linejoin="round"/>
<path d="M26.2,371.1 C26.7,371.1 27.2,371.1 27.7,371.1 C28.2,371.1 28.7,371.1 29.2,371.1 C29.7,371.1 30.2,371.1 30.7,371.1 C31.2,371.1 31.7,371.1 32.2,371.1 C32.7,371.1 33.2,371.1 33.7,371.1 C34.2,371.1 34.7,371.1 35.2,371.1 C35.7,371.1 36.2,371.1 36.7,371.1 C37.2,371.1 37.7,371.1 38.2,371.1 C38.7,371.1 39.2,371.1 39.7,371.1 C40.2,371.1 40.7,371.1 41.2,371.1 C41.7,371.1 42.2,371.1 42.7,371.1 C43.2,371.1 43.7,371.1 44.2,371.1 C44.7,371.1 45.2,371.1 45.7,371.1 C46.2,371.1 46.7,371.1 47.2,371.1 C47.7,371.1 48.2,371.1 48.7,371.1 C49.2,371.1 49.7,371.1 50.2,371.1 C50.7,371.1 51.2,371.1 51.7,371.1 C52.2,371.1 52.7,371.1 53.2,371.1 C53.7,371.1 54.2,371.1 54.7,371.1 C55.2,371.1 55.7,371.1 56.2,371.1 C56.7,371.1 57.2,371.1 57.7,371.1 C58.2,371.1 58.7,371.1 59.2,371.1 C59.7,371.1 60.2,371.1 60.7,371.1 C61.2,371.1 61.7,371.1 62.2,371.1 C62.7,371.2 63.2,371.2 63.7,371.2 C64.2,371.2 64.7,371.2 65.2,371.2 C65.7,371.2 66.2,371.2 66.7,371.2 C67.2,371.2 67.7,371.2 68.2,371.2 C68.7,371.2 69.2,371.2 69.7,371.2 C70.2,371.2 70.7,371.2 71.2,371.2 C71.7,371.2 72.2,371.2 72.7,371.2 C73.2,371.2 73.7,371.2 74.2,371.3 C74.7,371.3 75.2,371.3 75.7,371.3 C76.2,371.3 76.7,371.3 77.2,371.3 C77.7,371.3 78.2,371.3 78.7,371.3 C79.2,371.3 79.7,371.3 80.2,371.4 C80.7,371.4 81.2,371.4 81.7,371.4 C82.2,371.4 82.7,371.4 83.2,371.4 C83.7,371.4 84.2,371.4 84.7,371.5 C85.2,371.5 85.7,371.5 86.2,371.5 C86.7,371.5 87.2,371.5 87.7,371.5 C88.2,371.6 88.7,371.6 89.2,371.6 C89.7,371.6 90.2,371.6 90.7,371.6 C91.2,371.7 91.7,371.7 92.2,371.7 C92.7,371.7 93.2,371.7 93.7,371.8 C94.2,371.8 94.7,371.8 95.2,371.8 C95.7,371.9 96.2,371.9 96.7,371.9 C97.2,371.9 97.7,372 98.2,372 C98.7,372 99.2,372 99.7,372.1 C100.2,372.1 100.7,372.1 101.2,372.2 C101.7,372.2 102.2,372.2 102.7,372.3 C103.2,372.3 103.7,372.3 104.2,372.4 C104.7,372.4 105.2,372.4 105.7,372.5 C106.2,372.5 106.7,372.5 107.2,372.6 C107.7,372.6 108.2,372.7 108.7,372.7 C109.2,372.8 109.7,372.8 110.2,372.8 C110.7,372.9 111.2,372.9 111.7,373 C112.2,373 112.7,373.1 113.2,373.1 C113.7,373.2 114.2,373.2 114.7,373.3 C115.2,373.3 115.7,373.4 116.2,373.4 C116.7,373.5 117.2,373.5 117.7,373.6 C118.2,373.6 118.7,373.7 119.2,373.8 C119.7,373.8 120.2,373.9 120.7,373.9 C121.2,374 121.7,374.1 122.2,374.1 C122.7,374.2 123.2,374.2 123.7,374.3 C124.2,374.4 124.7,374.4 125.2,374.5 C125.7,374.6 126.2,374.6 126.7,374.7 C127.2,374.8 127.7,374.8 128.2,374.9 C128.7,375 129.2,375.1 129.7,375.1 C130.2,375.2 130.7,375.3 131.2,375.4 C131.7,375.4 132.2,375.5 132.7,375.6 C133.2,375.7 133.7,375.7 134.2,375.8 C134.7,375.9 135.2,376 135.7,376 C136.2,376.1 136.7,376.2 137.2,376.3 C137.7,376.4 138.2,376.4 138.7,376.5 C139.2,376.6 139.7,376.7 140.2,376.8 C140.7,376.8 141.2,376.9 141.7,377 C142.2,377.1 142.7,377.2 143.2,377.3 C143.7,377.4 144.2,377.5 144.7,377.6 C145.2,377.7 145.7,377.7 146.2,377.9 C146.7,378 147.2,378.1 147.7,378.2 C148.2,378.3 148.7,378.5 149.2,378.6 C149.7,378.8 150.2,378.9 150.7,379.1 C151.2,379.3 151.7,379.5 152.2,379.7 C152.7,379.9 153.2,380.1 153.7,380.4 C154.2,380.6 154.7,380.9 155.2,381.1 C155.7,381.4 156.2,381.7 156.7,382 C157.2,382.2 157.7,382.5 158.2,382.8 C158.7,383.1 159.2,383.4 159.7,383.7 C160.2,384 160.7,384.2 161.2,384.5 C161.7,384.8 162.2,385 162.7,385.3 C163.2,385.5 163.7,385.8 164.2,386 C164.7,386.3 165.2,386.5 165.7,386.8 C166.2,387 166.7,387.3 167.2,387.5 C167.7,387.8 168.2,388.1 168.7,388.4 C169.2,388.6 169.7,388.9 170.2,389.3 C170.7,389.6 171.2,389.9 171.7,390.3 C172.2,390.6 172.7,391 173.2,391.4 C173.7,391.8 174.2,392.2 174.7,392.6 C175.2,393.1 175.7,393.5 176.2,394 C176.7,394.5 177.2,394.9 177.7,395.4 C178.2,396 178.7,396.5 179.2,397 C179.7,397.5 180.2,398.1 180.7,398.6 C181.2,399.1 181.7,399.7 182.2,400.2 C182.7,400.8 183.2,401.3 183.7,401.9 C184.2,402.4 184.7,402.9 185.2,403.4 C185.7,404 186.2,404.5 186.7,405 C187.2,405.5 187.7,406 188.2,406.5 C188.7,406.9 189.2,407.4 189.7,407.9 C190.2,408.3 190.7,408.8 191.2,409.2 C191.7,409.6 192.2,410.1 192.7,410.5 C193.2,410.9 193.7,411.3 194.2,411.7 C194.7,412.1 195.2,412.5 195.7,412.9 C196.2,413.3 196.7,413.7 197.2,414.1 C197.7,414.5 198.2,414.9 198.7,415.3 C199.2,415.7 199.7,416.1 200.2,416.4 C200.7,416.8 201.2,417.2 201.7,417.5 C202.2,417.9 202.7,418.2 203.2,418.6 C203.7,418.9 204.2,419.2 204.7,419.5 C205.2,419.9 205.7,420.2 206.2,420.4 C206.7,420.7 207.2,420.9 207.7,421.2 C208.2,421.4 208.7,421.6 209.2,421.8 C209.7,422 210.2,422.2 210.7,422.3 C211.2,422.5 211.7,422.6 212.2,422.8 C212.7,422.9 213.2,423 213.7,423.1 C214.2,423.2 214.7,423.2 215.2,423.3 C215.7,423.4 216.2,423.4 216.7,423.5 C217.1,423.5 217.6,423.5 218,423.6" fill="none" stroke="#1F78B4" stroke-width="1.9" stroke-dasharray="6.85 6.85" stroke-dashoffset="6.70" stroke-linejoin="round"/>
<path d="M26.2,336.4 C26.7,336.4 27.2,336.4 27.7,336.4 C28.2,336.4 28.7,336.4 29.2,336.4 C29.7,336.4 30.2,336.4 30.7,336.4 C31.2,336.4 31.7,336.4 32.2,336.4 C32.7,336.4 33.2,336.4 33.7,336.4 C34.2,336.4 34.7,336.4 35.2,336.4 C35.7,336.4 36.2,336.4 36.7,336.4 C37.2,336.4 37.7,336.4 38.2,336.4 C38.7,336.4 39.2,336.4 39.7,336.4 C40.2,336.4 40.7,336.4 41.2,336.4 C41.7,336.4 42.2,336.4 42.7,336.4 C43.2,336.4 43.7,336.4 44.2,336.4 C44.7,336.4 45.2,336.4 45.7,336.4 C46.2,336.4 46.7,336.4 47.2,336.4 C47.7,336.4 48.2,336.5 48.7,336.5 C49.2,336.5 49.7,336.5 50.2,336.5 C50.7,336.5 51.2,336.5 51.7,336.5 C52.2,336.5 52.7,336.5 53.2,336.5 C53.7,336.5 54.2,336.5 54.7,336.5 C55.2,336.5 55.7,336.5 56.2,336.5 C56.7,336.5 57.2,336.5 57.7,336.5 C58.2,336.5 58.7,336.5 59.2,336.5 C59.7,336.5 60.2,336.5 60.7,336.5 C61.2,336.5 61.7,336.5 62.2,336.6 C62.7,336.6 63.2,336.6 63.7,336.6 C64.2,336.6 64.7,336.6 65.2,336.6 C65.7,336.6 66.2,336.6 66.7,336.6 C67.2,336.6 67.7,336.6 68.2,336.6 C68.7,336.6 69.2,336.6 69.7,336.6 C70.2,336.7 70.7,336.7 71.2,336.7 C71.7,336.7 72.2,336.7 72.7,336.7 C73.2,336.7 73.7,336.7 74.2,336.7 C74.7,336.7 75.2,336.7 75.7,336.7 C76.2,336.8 76.7,336.8 77.2,336.8 C77.7,336.8 78.2,336.8 78.7,336.8 C79.2,336.8 79.7,336.8 80.2,336.8 C80.7,336.8 81.2,336.9 81.7,336.9 C82.2,336.9 82.7,336.9 83.2,336.9 C83.7,336.9 84.2,336.9 84.7,336.9 C85.2,337 85.7,337 86.2,337 C86.7,337 87.2,337 87.7,337 C88.2,337 88.7,337 89.2,337.1 C89.7,337.1 90.2,337.1 90.7,337.1 C91.2,337.1 91.7,337.1 92.2,337.1 C92.7,337.2 93.2,337.2 93.7,337.2 C94.2,337.2 94.7,337.2 95.2,337.2 C95.7,337.3 96.2,337.3 96.7,337.3 C97.2,337.3 97.7,337.3 98.2,337.3 C98.7,337.4 99.2,337.4 99.7,337.4 C100.2,337.4 100.7,337.4 101.2,337.4 C101.7,337.5 102.2,337.5 102.7,337.5 C103.2,337.5 103.7,337.5 104.2,337.5 C104.7,337.6 105.2,337.6 105.7,337.6 C106.2,337.6 106.7,337.6 107.2,337.6 C107.7,337.7 108.2,337.7 108.7,337.7 C109.2,337.7 109.7,337.7 110.2,337.8 C110.7,337.8 111.2,337.8 111.7,337.8 C112.2,337.8 112.7,337.8 113.2,337.9 C113.7,337.9 114.2,337.9 114.7,337.9 C115.2,337.9 115.7,338 116.2,338 C116.7,338 117.2,338 117.7,338 C118.2,338 118.7,338.1 119.2,338.1 C119.7,338.1 120.2,338.1 120.7,338.1 C121.2,338.2 121.7,338.2 122.2,338.2 C122.7,338.2 123.2,338.2 123.7,338.2 C124.2,338.3 124.7,338.3 125.2,338.3 C125.7,338.3 126.2,338.3 126.7,338.4 C127.2,338.4 127.7,338.4 128.2,338.4 C128.7,338.4 129.2,338.5 129.7,338.5 C130.2,338.5 130.7,338.5 131.2,338.5 C131.7,338.6 132.2,338.6 132.7,338.6 C133.2,338.6 133.7,338.6 134.2,338.7 C134.7,338.7 135.2,338.7 135.7,338.7 C136.2,338.8 136.7,338.8 137.2,338.8 C137.7,338.9 138.2,338.9 138.7,338.9 C139.2,339 139.7,339 140.2,339 C140.7,339.1 141.2,339.1 141.7,339.2 C142.2,339.2 142.7,339.2 143.2,339.3 C143.7,339.3 144.2,339.4 144.7,339.4 C145.2,339.5 145.7,339.6 146.2,339.6 C146.7,339.7 147.2,339.8 147.7,339.8 C148.2,339.9 148.7,340 149.2,340.1 C149.7,340.1 150.2,340.2 150.7,340.3 C151.2,340.4 151.7,340.5 152.2,340.6 C152.7,340.7 153.2,340.8 153.7,340.9 C154.2,341.1 154.7,341.2 155.2,341.3 C155.7,341.4 156.2,341.6 156.7,341.7 C157.2,341.9 157.7,342 158.2,342.2 C158.7,342.3 159.2,342.5 159.7,342.6 C160.2,342.8 160.7,343 161.2,343.1 C161.7,343.3 162.2,343.5 162.7,343.7 C163.2,343.9 163.7,344 164.2,344.2 C164.7,344.4 165.2,344.6 165.7,344.8 C166.2,345 166.7,345.3 167.2,345.5 C167.7,345.7 168.2,345.9 168.7,346.1 C169.2,346.3 169.7,346.6 170.2,346.8 C170.7,347 171.2,347.3 171.7,347.5 C172.2,347.8 172.7,348 173.2,348.3 C173.7,348.6 174.2,348.9 174.7,349.2 C175.2,349.4 175.7,349.8 176.2,350.1 C176.7,350.4 177.2,350.8 177.7,351.2 C178.2,351.6 178.7,352 179.2,352.4 C179.7,352.9 180.2,353.4 180.7,353.9 C181.2,354.4 181.7,355 182.2,355.6 C182.7,356.3 183.2,357 183.7,357.7 C184.2,358.4 184.7,359.2 185.2,360.1 C185.7,360.9 186.2,361.8 186.7,362.8 C187.2,363.7 187.7,364.8 188.2,365.8 C188.7,366.9 189.2,368.1 189.7,369.2 C190.2,370.4 190.7,371.7 191.2,372.9 C191.7,374.2 192.2,375.6 192.7,376.9 C193.2,378.3 193.7,379.7 194.2,381.1 C194.7,382.6 195.2,384 195.7,385.5 C196.2,387 196.7,388.5 197.2,390 C197.7,391.6 198.2,393.1 198.7,394.6 C199.2,396.1 199.7,397.6 200.2,399.1 C200.7,400.6 201.2,402.1 201.7,403.5 C202.2,404.9 202.7,406.3 203.2,407.6 C203.7,408.9 204.2,410.1 204.7,411.3 C205.2,412.4 205.7,413.5 206.2,414.5 C206.7,415.4 207.2,416.3 207.7,417.1 C208.2,417.9 208.7,418.6 209.2,419.2 C209.7,419.8 210.2,420.4 210.7,420.8 C211.2,421.2 211.7,421.6 212.2,421.9 C212.7,422.2 213.2,422.5 213.7,422.7 C214.2,422.9 214.7,423.1 215.2,423.2 C215.7,423.3 216.2,423.4 216.7,423.5 C217.2,423.6 217.7,423.7 218.2,423.7 C218.7,423.7 219.2,423.8 219.7,423.8 C220.2,423.8 220.7,423.8 221.2,423.8 C221.7,423.9 222.2,423.9 222.7,423.9 C223.2,423.9 223.7,423.9 224.2,423.9 C224.7,423.9 225.2,423.9 225.7,423.9 C226.2,423.9 226.7,423.9 227.2,423.9 C227.7,423.9 228.2,423.9 228.7,423.9 C229.2,423.9 229.7,423.9 230.2,423.9 C230.7,423.9 231.2,423.9 231.7,423.9 C232.2,423.9 232.7,423.9 233.2,423.9 C233.7,423.9 234.2,423.9 234.7,423.9 C235.2,423.9 235.7,423.9 236.2,423.9 C236.7,423.9 237.2,423.9 237.7,423.9 C238.2,423.9 238.7,423.9 239.2,423.9 C239.7,423.9 240.2,423.9 240.7,423.9 C241.2,423.9 241.7,423.9 242.2,423.9 C242.7,423.9 243.2,423.9 243.7,423.9 C244.2,423.9 244.7,423.9 245.2,423.9 C245.7,423.9 246.2,423.9 246.7,423.9 C247.2,423.9 247.7,423.9 248.2,423.9 C248.7,423.9 249.2,423.9 249.7,423.9 C250.2,423.9 250.7,423.9 251.2,423.9 C251.7,423.9 252.2,423.9 252.7,423.9 C253.2,423.9 253.7,423.9 254.2,423.9 C254.7,423.9 255.2,423.9 255.7,423.9 C256.2,423.9 256.7,423.9 257.2,423.9 C257.7,423.9 258.2,423.9 258.7,423.9 C259.2,423.9 259.7,423.9 260.2,423.9 C260.7,423.9 261.2,423.9 261.7,423.9 C262.2,423.9 262.7,423.9 263.2,423.9 C263.7,423.9 264.2,423.9 264.7,423.9 C265.2,423.9 265.7,423.9 266.2,423.9 C266.7,423.9 267.2,423.9 267.7,423.9 C268.1,423.9 268.6,423.9 269,423.9" fill="none" stroke="#B2DF8A" stroke-width="1.9" stroke-linejoin="round"/>
<path d="M26.2,348.2 C26.7,348.2 27.2,348.2 27.7,348.2 C28.2,348.2 28.7,348.2 29.2,348.2 C29.7,348.2 30.2,348.2 30.7,348.2 C31.2,348.2 31.7,348.2 32.2,348.2 C32.7,348.2 33.2,348.2 33.7,348.2 C34.2,348.2 34.7,348.2 35.2,348.2 C35.7,348.3 36.2,348.3 36.7,348.3 C37.2,348.3 37.7,348.3 38.2,348.3 C38.7,348.3 39.2,348.3 39.7,348.3 C40.2,348.3 40.7,348.3 41.2,348.3 C41.7,348.3 42.2,348.3 42.7,348.3 C43.2,348.3 43.7,348.3 44.2,348.3 C44.7,348.3 45.2,348.3 45.7,348.3 C46.2,348.3 46.7,348.3 47.2,348.3 C47.7,348.3 48.2,348.3 48.7,348.3 C49.2,348.3 49.7,348.3 50.2,348.3 C50.7,348.3 51.2,348.3 51.7,348.3 C52.2,348.3 52.7,348.3 53.2,348.3 C53.7,348.3 54.2,348.3 54.7,348.3 C55.2,348.3 55.7,348.4 56.2,348.4 C56.7,348.4 57.2,348.4 57.7,348.4 C58.2,348.4 58.7,348.4 59.2,348.4 C59.7,348.4 60.2,348.4 60.7,348.4 C61.2,348.4 61.7,348.4 62.2,348.4 C62.7,348.4 63.2,348.4 63.7,348.4 C64.2,348.4 64.7,348.4 65.2,348.4 C65.7,348.4 66.2,348.4 66.7,348.5 C67.2,348.5 67.7,348.5 68.2,348.5 C68.7,348.5 69.2,348.5 69.7,348.5 C70.2,348.5 70.7,348.5 71.2,348.5 C71.7,348.5 72.2,348.5 72.7,348.5 C73.2,348.5 73.7,348.5 74.2,348.5 C74.7,348.6 75.2,348.6 75.7,348.6 C76.2,348.6 76.7,348.6 77.2,348.6 C77.7,348.6 78.2,348.6 78.7,348.6 C79.2,348.6 79.7,348.6 80.2,348.6 C80.7,348.6 81.2,348.7 81.7,348.7 C82.2,348.7 82.7,348.7 83.2,348.7 C83.7,348.7 84.2,348.7 84.7,348.7 C85.2,348.7 85.7,348.7 86.2,348.7 C86.7,348.8 87.2,348.8 87.7,348.8 C88.2,348.8 88.7,348.8 89.2,348.8 C89.7,348.8 90.2,348.8 90.7,348.8 C91.2,348.8 91.7,348.9 92.2,348.9 C92.7,348.9 93.2,348.9 93.7,348.9 C94.2,348.9 94.7,348.9 95.2,348.9 C95.7,349 96.2,349 96.7,349 C97.2,349 97.7,349 98.2,349 C98.7,349 99.2,349.1 99.7,349.1 C100.2,349.1 100.7,349.1 101.2,349.1 C101.7,349.1 102.2,349.1 102.7,349.2 C103.2,349.2 103.7,349.2 104.2,349.2 C104.7,349.2 105.2,349.2 105.7,349.2 C106.2,349.3 106.7,349.3 107.2,349.3 C107.7,349.3 108.2,349.3 108.7,349.3 C109.2,349.4 109.7,349.4 110.2,349.4 C110.7,349.4 111.2,349.4 111.7,349.5 C112.2,349.5 112.7,349.5 113.2,349.5 C113.7,349.5 114.2,349.5 114.7,349.6 C115.2,349.6 115.7,349.6 116.2,349.6 C116.7,349.6 117.2,349.7 117.7,349.7 C118.2,349.7 118.7,349.7 119.2,349.7 C119.7,349.8 120.2,349.8 120.7,349.8 C121.2,349.8 121.7,349.9 122.2,349.9 C122.7,349.9 123.2,349.9 123.7,349.9 C124.2,350 124.7,350 125.2,350 C125.7,350 126.2,350.1 126.7,350.1 C127.2,350.1 127.7,350.1 128.2,350.2 C128.7,350.2 129.2,350.2 129.7,350.2 C130.2,350.3 130.7,350.3 131.2,350.3 C131.7,350.3 132.2,350.4 132.7,350.4 C133.2,350.4 133.7,350.4 134.2,350.5 C134.7,350.5 135.2,350.5 135.7,350.6 C136.2,350.6 136.7,350.6 137.2,350.6 C137.7,350.7 138.2,350.7 138.7,350.7 C139.2,350.7 139.7,350.8 140.2,350.8 C140.7,350.8 141.2,350.9 141.7,350.9 C142.2,350.9 142.7,351 143.2,351 C143.7,351 144.2,351 144.7,351.1 C145.2,351.1 145.7,351.1 146.2,351.2 C146.7,351.2 147.2,351.2 147.7,351.3 C148.2,351.3 148.7,351.3 149.2,351.4 C149.7,351.4 150.2,351.4 150.7,351.5 C151.2,351.5 151.7,351.5 152.2,351.6 C152.7,351.6 153.2,351.6 153.7,351.7 C154.2,351.7 154.7,351.7 155.2,351.8 C155.7,351.8 156.2,351.8 156.7,351.9 C157.2,351.9 157.7,351.9 158.2,352 C158.7,352 159.2,352 159.7,352.1 C160.2,352.1 160.7,352.2 161.2,352.2 C161.7,352.2 162.2,352.3 162.7,352.3 C163.2,352.3 163.7,352.4 164.2,352.4 C164.7,352.5 165.2,352.5 165.7,352.5 C166.2,352.6 166.7,352.6 167.2,352.7 C167.7,352.7 168.2,352.7 168.7,352.8 C169.2,352.8 169.7,352.9 170.2,352.9 C170.7,353 171.2,353 171.7,353.1 C172.2,353.1 172.7,353.2 173.2,353.2 C173.7,353.2 174.2,353.3 174.7,353.4 C175.2,353.4 175.7,353.5 176.2,353.5 C176.7,353.6 177.2,353.6 177.7,353.7 C178.2,353.7 178.7,353.8 179.2,353.9 C179.7,353.9 180.2,354 180.7,354.1 C181.2,354.1 181.7,354.2 182.2,354.3 C182.7,354.4 183.2,354.4 183.7,354.5 C184.2,354.6 184.7,354.7 185.2,354.8 C185.7,354.9 186.2,354.9 186.7,355 C187.2,355.1 187.7,355.2 188.2,355.3 C188.7,355.4 189.2,355.6 189.7,355.7 C190.2,355.8 190.7,355.9 191.2,356 C191.7,356.2 192.2,356.3 192.7,356.4 C193.2,356.5 193.7,356.7 194.2,356.8 C194.7,357 195.2,357.1 195.7,357.3 C196.2,357.4 196.7,357.6 197.2,357.8 C197.7,357.9 198.2,358.1 198.7,358.3 C199.2,358.5 199.7,358.7 200.2,358.9 C200.7,359.1 201.2,359.3 201.7,359.5 C202.2,359.7 202.7,359.9 203.2,360.1 C203.7,360.3 204.2,360.6 204.7,360.8 C205.2,361 205.7,361.3 206.2,361.5 C206.7,361.8 207.2,362 207.7,362.3 C208.2,362.5 208.7,362.8 209.2,363.1 C209.7,363.3 210.2,363.6 210.7,363.9 C211.2,364.2 211.7,364.4 212.2,364.7 C212.7,365 213.2,365.3 213.7,365.6 C214.2,365.9 214.7,366.2 215.2,366.5 C215.7,366.8 216.2,367.1 216.7,367.5 C217.2,367.8 217.7,368.1 218.2,368.4 C218.7,368.7 219.2,369.1 219.7,369.4 C220.2,369.7 220.7,370.1 221.2,370.4 C221.7,370.7 222.2,371.1 222.7,371.4 C223.2,371.8 223.7,372.1 224.2,372.5 C224.7,372.8 225.2,373.2 225.7,373.5 C226.2,373.9 226.7,374.3 227.2,374.6 C227.7,375 228.2,375.4 228.7,375.7 C229.2,376.1 229.7,376.5 230.2,376.9 C230.7,377.3 231.2,377.7 231.7,378 C232.2,378.4 232.7,378.8 233.2,379.2 C233.7,379.6 234.2,380 234.7,380.5 C235.2,380.9 235.7,381.3 236.2,381.7 C236.7,382.1 237.2,382.6 237.7,383 C238.2,383.4 238.7,383.9 239.2,384.3 C239.7,384.8 240.2,385.2 240.7,385.7 C241.2,386.1 241.7,386.6 242.2,387.1 C242.7,387.5 243.2,388 243.7,388.5 C244.2,389 244.7,389.5 245.2,389.9 C245.7,390.4 246.2,390.9 246.7,391.4 C247.2,391.9 247.7,392.4 248.2,393 C248.7,393.5 249.2,394 249.7,394.5 C250.2,395 250.7,395.5 251.2,396 C251.7,396.6 252.2,397.1 252.7,397.6 C253.2,398.1 253.7,398.6 254.2,399.2 C254.7,399.7 255.2,400.2 255.7,400.7 C256.2,401.2 256.7,401.8 257.2,402.3 C257.7,402.8 258.2,403.3 258.7,403.8 C259.2,404.3 259.7,404.8 260.2,405.3 C260.7,405.8 261.2,406.3 261.7,406.7 C262.2,407.2 262.7,407.7 263.2,408.2 C263.7,408.6 264.2,409.1 264.7,409.5 C265.2,410 265.7,410.4 266.2,410.8 C266.7,411.2 267.2,411.7 267.7,412.1 C268.2,412.5 268.7,412.9 269.2,413.2 C269.7,413.6 270.2,414 270.7,414.3 C271.2,414.7 271.7,415 272.2,415.4 C272.7,415.7 273.2,416 273.7,416.3 C274.2,416.6 274.7,416.9 275.2,417.2 C275.7,417.5 276.2,417.7 276.7,418 C277.2,418.3 277.7,418.5 278.2,418.7 C278.7,419 279.2,419.2 279.7,419.4 C280.2,419.6 280.7,419.8 281.2,420 C281.7,420.2 282.2,420.3 282.7,420.5 C283.2,420.7 283.7,420.8 284.2,421 C284.7,421.1 285.2,421.3 285.7,421.4 C286.2,421.5 286.7,421.6 287.2,421.8 C287.7,421.9 288.2,422 288.7,422.1 C289.2,422.2 289.7,422.3 290.2,422.3 C290.7,422.4 291.2,422.5 291.7,422.6 C292.2,422.6 292.7,422.7 293.2,422.8 C293.7,422.8 294.2,422.9 294.7,422.9 C295.2,423 295.7,423 296.2,423.1 C296.7,423.1 297.2,423.2 297.7,423.2 C298.2,423.3 298.7,423.3 299.2,423.3 C299.7,423.3 300.2,423.4 300.7,423.4 C301.2,423.4 301.7,423.5 302.2,423.5 C302.7,423.5 303.2,423.5 303.7,423.5 C304.2,423.6 304.7,423.6 305.2,423.6 C305.7,423.6 306.2,423.6 306.7,423.6 C307.2,423.6 307.7,423.6 308.2,423.7 C308.7,423.7 309.2,423.7 309.7,423.7 C310.2,423.7 310.7,423.7 311.2,423.7 C311.7,423.7 312.2,423.7 312.7,423.7 C313.2,423.7 313.7,423.7 314.2,423.8 C314.7,423.8 315.2,423.8 315.7,423.8 C316.2,423.8 316.7,423.8 317.2,423.8 C317.7,423.8 318.2,423.8 318.7,423.8 C319.2,423.8 319.7,423.8 320.2,423.8 C320.7,423.8 321.2,423.8 321.7,423.8 C322.2,423.8 322.7,423.8 323.2,423.8 C323.7,423.8 324.1,423.8 324.6,423.8" fill="none" stroke="#33A02C" stroke-width="1.9" stroke-linejoin="round"/>
<path d="M26.2,349.6 C26.7,349.6 27.2,349.6 27.7,349.6 C28.2,349.6 28.7,349.6 29.2,349.6 C29.7,349.6 30.2,349.6 30.7,349.6 C31.2,349.6 31.7,349.6 32.2,349.6 C32.7,349.6 33.2,349.6 33.7,349.6 C34.2,349.6 34.7,349.6 35.2,349.6 C35.7,349.6 36.2,349.6 36.7,349.6 C37.2,349.6 37.7,349.6 38.2,349.6 C38.7,349.6 39.2,349.6 39.7,349.6 C40.2,349.6 40.7,349.6 41.2,349.6 C41.7,349.6 42.2,349.6 42.7,349.6 C43.2,349.6 43.7,349.6 44.2,349.6 C44.7,349.6 45.2,349.6 45.7,349.6 C46.2,349.6 46.7,349.6 47.2,349.6 C47.7,349.6 48.2,349.6 48.7,349.6 C49.2,349.6 49.7,349.6 50.2,349.6 C50.7,349.6 51.2,349.6 51.7,349.6 C52.2,349.6 52.7,349.6 53.2,349.6 C53.7,349.6 54.2,349.6 54.7,349.6 C55.2,349.6 55.7,349.6 56.2,349.6 C56.7,349.6 57.2,349.6 57.7,349.6 C58.2,349.6 58.7,349.6 59.2,349.6 C59.7,349.6 60.2,349.6 60.7,349.6 C61.2,349.6 61.7,349.6 62.2,349.6 C62.7,349.6 63.2,349.6 63.7,349.6 C64.2,349.6 64.7,349.6 65.2,349.6 C65.7,349.6 66.2,349.6 66.7,349.6 C67.2,349.6 67.7,349.7 68.2,349.7 C68.7,349.7 69.2,349.7 69.7,349.7 C70.2,349.7 70.7,349.7 71.2,349.7 C71.7,349.7 72.2,349.7 72.7,349.7 C73.2,349.7 73.7,349.7 74.2,349.7 C74.7,349.7 75.2,349.7 75.7,349.7 C76.2,349.7 76.7,349.7 77.2,349.7 C77.7,349.7 78.2,349.7 78.7,349.7 C79.2,349.7 79.7,349.7 80.2,349.7 C80.7,349.8 81.2,349.8 81.7,349.8 C82.2,349.8 82.7,349.8 83.2,349.8 C83.7,349.8 84.2,349.8 84.7,349.8 C85.2,349.8 85.7,349.8 86.2,349.8 C86.7,349.8 87.2,349.8 87.7,349.8 C88.2,349.8 88.7,349.9 89.2,349.9 C89.7,349.9 90.2,349.9 90.7,349.9 C91.2,349.9 91.7,349.9 92.2,349.9 C92.7,349.9 93.2,349.9 93.7,349.9 C94.2,350 94.7,350 95.2,350 C95.7,350 96.2,350 96.7,350 C97.2,350 97.7,350 98.2,350 C98.7,350.1 99.2,350.1 99.7,350.1 C100.2,350.1 100.7,350.1 101.2,350.1 C101.7,350.1 102.2,350.1 102.7,350.2 C103.2,350.2 103.7,350.2 104.2,350.2 C104.7,350.2 105.2,350.2 105.7,350.3 C106.2,350.3 106.7,350.3 107.2,350.3 C107.7,350.3 108.2,350.3 108.7,350.4 C109.2,350.4 109.7,350.4 110.2,350.4 C110.7,350.4 111.2,350.5 111.7,350.5 C112.2,350.5 112.7,350.5 113.2,350.6 C113.7,350.6 114.2,350.6 114.7,350.6 C115.2,350.6 115.7,350.7 116.2,350.7 C116.7,350.7 117.2,350.7 117.7,350.8 C118.2,350.8 118.7,350.8 119.2,350.8 C119.7,350.9 120.2,350.9 120.7,350.9 C121.2,351 121.7,351 122.2,351 C122.7,351.1 123.2,351.1 123.7,351.1 C124.2,351.1 124.7,351.2 125.2,351.2 C125.7,351.2 126.2,351.3 126.7,351.3 C127.2,351.4 127.7,351.4 128.2,351.4 C128.7,351.5 129.2,351.5 129.7,351.5 C130.2,351.6 130.7,351.6 131.2,351.7 C131.7,351.7 132.2,351.7 132.7,351.8 C133.2,351.8 133.7,351.9 134.2,351.9 C134.7,351.9 135.2,352 135.7,352 C136.2,352.1 136.7,352.1 137.2,352.2 C137.7,352.2 138.2,352.3 138.7,352.3 C139.2,352.4 139.7,352.4 140.2,352.5 C140.7,352.5 141.2,352.6 141.7,352.6 C142.2,352.7 142.7,352.7 143.2,352.8 C143.7,352.8 144.2,352.9 144.7,352.9 C145.2,353 145.7,353 146.2,353.1 C146.7,353.2 147.2,353.2 147.7,353.3 C148.2,353.3 148.7,353.4 149.2,353.5 C149.7,353.5 150.2,353.6 150.7,353.6 C151.2,353.7 151.7,353.8 152.2,353.8 C152.7,353.9 153.2,354 153.7,354 C154.2,354.1 154.7,354.2 155.2,354.2 C155.7,354.3 156.2,354.4 156.7,354.4 C157.2,354.5 157.7,354.6 158.2,354.6 C158.7,354.7 159.2,354.8 159.7,354.9 C160.2,354.9 160.7,355 161.2,355.1 C161.7,355.2 162.2,355.2 162.7,355.3 C163.2,355.4 163.7,355.5 164.2,355.5 C164.7,355.6 165.2,355.7 165.7,355.8 C166.2,355.9 166.7,356 167.2,356 C167.7,356.1 168.2,356.2 168.7,356.3 C169.2,356.4 169.7,356.5 170.2,356.6 C170.7,356.6 171.2,356.7 171.7,356.8 C172.2,356.9 172.7,357 173.2,357.1 C173.7,357.2 174.2,357.3 174.7,357.4 C175.2,357.5 175.7,357.6 176.2,357.7 C176.7,357.8 177.2,357.9 177.7,358 C178.2,358.1 178.7,358.2 179.2,358.3 C179.7,358.4 180.2,358.6 180.7,358.7 C181.2,358.8 181.7,358.9 182.2,359 C182.7,359.2 183.2,359.3 183.7,359.4 C184.2,359.5 184.7,359.7 185.2,359.8 C185.7,359.9 186.2,360.1 186.7,360.2 C187.2,360.4 187.7,360.5 188.2,360.7 C188.7,360.8 189.2,361 189.7,361.1 C190.2,361.3 190.7,361.5 191.2,361.6 C191.7,361.8 192.2,362 192.7,362.2 C193.2,362.4 193.7,362.6 194.2,362.7 C194.7,362.9 195.2,363.1 195.7,363.4 C196.2,363.6 196.7,363.8 197.2,364 C197.7,364.2 198.2,364.4 198.7,364.7 C199.2,364.9 199.7,365.1 200.2,365.4 C200.7,365.6 201.2,365.9 201.7,366.1 C202.2,366.4 202.7,366.7 203.2,366.9 C203.7,367.2 204.2,367.5 204.7,367.8 C205.2,368.1 205.7,368.4 206.2,368.7 C206.7,369 207.2,369.3 207.7,369.6 C208.2,369.9 208.7,370.3 209.2,370.6 C209.7,370.9 210.2,371.3 210.7,371.6 C211.2,372 211.7,372.3 212.2,372.7 C212.7,373 213.2,373.4 213.7,373.8 C214.2,374.1 214.7,374.5 215.2,374.9 C215.7,375.3 216.2,375.7 216.7,376.1 C217.2,376.5 217.7,376.9 218.2,377.3 C218.7,377.7 219.2,378.1 219.7,378.5 C220.2,379 220.7,379.4 221.2,379.8 C221.7,380.3 222.2,380.7 222.7,381.1 C223.2,381.6 223.7,382 224.2,382.5 C224.7,382.9 225.2,383.4 225.7,383.9 C226.2,384.3 226.7,384.8 227.2,385.3 C227.7,385.7 228.2,386.2 228.7,386.7 C229.2,387.2 229.7,387.7 230.2,388.1 C230.7,388.6 231.2,389.1 231.7,389.6 C232.2,390.1 232.7,390.6 233.2,391.1 C233.7,391.6 234.2,392.1 234.7,392.6 C235.2,393.1 235.7,393.6 236.2,394.1 C236.7,394.6 237.2,395.1 237.7,395.6 C238.2,396.1 238.7,396.6 239.2,397.1 C239.7,397.6 240.2,398.1 240.7,398.6 C241.2,399.1 241.7,399.6 242.2,400.1 C242.7,400.6 243.2,401.1 243.7,401.6 C244.2,402.1 244.7,402.6 245.2,403 C245.7,403.5 246.2,404 246.7,404.5 C247.2,404.9 247.7,405.4 248.2,405.9 C248.7,406.3 249.2,406.8 249.7,407.2 C250.2,407.7 250.7,408.1 251.2,408.6 C251.7,409 252.2,409.4 252.7,409.8 C253.2,410.2 253.7,410.6 254.2,411 C254.7,411.4 255.2,411.8 255.7,412.2 C256.2,412.6 256.7,412.9 257.2,413.3 C257.7,413.7 258.2,414 258.7,414.3 C259.2,414.7 259.7,415 260.2,415.3 C260.7,415.6 261.2,415.9 261.7,416.2 C262.2,416.5 262.7,416.8 263.2,417.1 C263.7,417.3 264.2,417.6 264.7,417.8 C265.2,418.1 265.7,418.3 266.2,418.5 C266.7,418.8 267.2,419 267.7,419.2 C268.2,419.4 268.7,419.6 269.2,419.8 C269.7,420 270.2,420.1 270.7,420.3 C271.2,420.5 271.7,420.6 272.2,420.8 C272.7,420.9 273.2,421.1 273.7,421.2 C274.2,421.3 274.7,421.4 275.2,421.6 C275.7,421.7 276.2,421.8 276.7,421.9 C277.2,422 277.7,422.1 278.2,422.2 C278.7,422.3 279.2,422.3 279.7,422.4 C280.2,422.5 280.7,422.6 281.2,422.6 C281.7,422.7 282.2,422.8 282.7,422.8 C283.2,422.9 283.7,422.9 284.2,423 C284.7,423 285.2,423.1 285.7,423.1 C286.2,423.2 286.7,423.2 287.2,423.2 C287.7,423.3 288.2,423.3 288.7,423.3 C289.2,423.4 289.7,423.4 290.2,423.4 C290.7,423.4 291.2,423.5 291.7,423.5 C292.2,423.5 292.7,423.5 293.2,423.6 C293.7,423.6 294.2,423.6 294.7,423.6 C295.2,423.6 295.7,423.6 296.2,423.6 C296.7,423.7 297.2,423.7 297.7,423.7 C298.2,423.7 298.7,423.7 299.2,423.7 C299.7,423.7 300.2,423.7 300.7,423.7 C301.2,423.7 301.7,423.7 302.2,423.8 C302.7,423.8 303.2,423.8 303.7,423.8 C304.2,423.8 304.7,423.8 305.2,423.8 C305.7,423.8 306.2,423.8 306.7,423.8 C307.2,423.8 307.7,423.8 308.2,423.8 C308.7,423.8 309.2,423.8 309.7,423.8 C310.2,423.8 310.7,423.8 311.2,423.8 C311.7,423.8 312.2,423.8 312.7,423.8 C313.2,423.8 313.7,423.8 314.2,423.8 C314.7,423.8 315.2,423.8 315.7,423.9 C316.2,423.9 316.7,423.9 317.2,423.9 C317.3,423.9 317.5,423.9 317.6,423.9" fill="none" stroke="#FB9A99" stroke-width="1.9" stroke-linejoin="round"/>
<path d="M26.2,375.6 C26.7,375.6 27.2,375.6 27.7,375.6 C28.2,375.6 28.7,375.6 29.2,375.6 C29.7,375.6 30.2,375.6 30.7,375.7 C31.2,375.7 31.7,375.7 32.2,375.7 C32.7,375.7 33.2,375.7 33.7,375.7 C34.2,375.7 34.7,375.7 35.2,375.7 C35.7,375.7 36.2,375.7 36.7,375.7 C37.2,375.7 37.7,375.7 38.2,375.7 C38.7,375.7 39.2,375.7 39.7,375.7 C40.2,375.7 40.7,375.8 41.2,375.8 C41.7,375.8 42.2,375.8 42.7,375.8 C43.2,375.8 43.7,375.8 44.2,375.8 C44.7,375.8 45.2,375.8 45.7,375.8 C46.2,375.8 46.7,375.8 47.2,375.8 C47.7,375.8 48.2,375.8 48.7,375.8 C49.2,375.8 49.7,375.8 50.2,375.8 C50.7,375.8 51.2,375.8 51.7,375.8 C52.2,375.8 52.7,375.8 53.2,375.8 C53.7,375.8 54.2,375.8 54.7,375.8 C55.2,375.8 55.7,375.8 56.2,375.8 C56.7,375.8 57.2,375.8 57.7,375.8 C58.2,375.8 58.7,375.8 59.2,375.8 C59.7,375.8 60.2,375.8 60.7,375.8 C61.2,375.8 61.7,375.8 62.2,375.8 C62.7,375.8 63.2,375.8 63.7,375.8 C64.2,375.8 64.7,375.8 65.2,375.8 C65.7,375.8 66.2,375.8 66.7,375.8 C67.2,375.8 67.7,375.8 68.2,375.8 C68.7,375.8 69.2,375.8 69.7,375.8 C70.2,375.8 70.7,375.8 71.2,375.8 C71.7,375.8 72.2,375.8 72.7,375.8 C73.2,375.8 73.7,375.8 74.2,375.8 C74.7,375.8 75.2,375.8 75.7,375.8 C76.2,375.8 76.7,375.8 77.2,375.8 C77.7,375.8 78.2,375.8 78.7,375.8 C79.2,375.8 79.7,375.8 80.2,375.8 C80.7,375.8 81.2,375.8 81.7,375.8 C82.2,375.8 82.7,375.8 83.2,375.8 C83.7,375.8 84.2,375.8 84.7,375.8 C85.2,375.8 85.7,375.8 86.2,375.8 C86.7,375.8 87.2,375.8 87.7,375.8 C88.2,375.8 88.7,375.8 89.2,375.8 C89.7,375.8 90.2,375.8 90.7,375.8 C91.2,375.8 91.7,375.8 92.2,375.8 C92.7,375.8 93.2,375.8 93.7,375.8 C94.2,375.8 94.7,375.8 95.2,375.8 C95.7,375.8 96.2,375.8 96.7,375.8 C97.2,375.8 97.7,375.8 98.2,375.8 C98.7,375.8 99.2,375.8 99.7,375.8 C100.2,375.8 100.7,375.8 101.2,375.8 C101.7,375.8 102.2,375.8 102.7,375.8 C103.2,375.8 103.7,375.8 104.2,375.8 C104.7,375.8 105.2,375.8 105.7,375.8 C106.2,375.8 106.7,375.8 107.2,375.8 C107.7,375.8 108.2,375.8 108.7,375.8 C109.2,375.8 109.7,375.8 110.2,375.8 C110.7,375.8 111.2,375.8 111.7,375.8 C112.2,375.8 112.7,375.8 113.2,375.8 C113.7,375.8 114.2,375.8 114.7,375.8 C115.2,375.8 115.7,375.8 116.2,375.8 C116.7,375.8 117.2,375.8 117.7,375.8 C118.2,375.8 118.7,375.8 119.2,375.8 C119.7,375.8 120.2,375.8 120.7,375.8 C121.2,375.8 121.7,375.8 122.2,375.8 C122.7,375.8 123.2,375.8 123.7,375.8 C124.2,375.8 124.7,375.8 125.2,375.8 C125.7,375.8 126.2,375.8 126.7,375.9 C127.2,375.9 127.7,375.9 128.2,375.9 C128.7,375.9 129.2,375.9 129.7,375.9 C130.2,375.9 130.7,375.9 131.2,376 C131.7,376 132.2,376 132.7,376 C133.2,376 133.7,376.1 134.2,376.1 C134.7,376.1 135.2,376.1 135.7,376.2 C136.2,376.2 136.7,376.2 137.2,376.3 C137.7,376.3 138.2,376.4 138.7,376.4 C139.2,376.5 139.7,376.6 140.2,376.6 C140.7,376.7 141.2,376.8 141.7,376.8 C142.2,376.9 142.7,377 143.2,377.1 C143.7,377.2 144.2,377.3 144.7,377.4 C145.2,377.6 145.7,377.7 146.2,377.8 C146.7,378 147.2,378.2 147.7,378.4 C148.2,378.5 148.7,378.8 149.2,379 C149.7,379.3 150.2,379.5 150.7,379.9 C151.2,380.2 151.7,380.6 152.2,381 C152.7,381.4 153.2,381.9 153.7,382.4 C154.2,382.9 154.7,383.5 155.2,384.2 C155.7,384.8 156.2,385.5 156.7,386.2 C157.2,387 157.7,387.8 158.2,388.6 C158.7,389.4 159.2,390.2 159.7,391 C160.2,391.9 160.7,392.7 161.2,393.6 C161.7,394.4 162.2,395.3 162.7,396.2 C163.2,397 163.7,397.9 164.2,398.7 C164.7,399.6 165.2,400.4 165.7,401.2 C166.2,402.1 166.7,402.9 167.2,403.7 C167.7,404.6 168.2,405.4 168.7,406.2 C169.2,407 169.7,407.9 170.2,408.7 C170.7,409.5 171.2,410.3 171.7,411 C172.2,411.8 172.7,412.6 173.2,413.3 C173.7,414 174.2,414.7 174.7,415.3 C175.2,416 175.7,416.6 176.2,417.2 C176.7,417.7 177.2,418.3 177.7,418.8 C178.2,419.2 178.7,419.7 179.2,420.1 C179.7,420.5 180.2,420.8 180.7,421.1 C181.2,421.4 181.7,421.7 182.2,422 C182.7,422.2 183.2,422.4 183.7,422.6 C184.2,422.7 184.7,422.9 185.2,423 C185.7,423.1 186.2,423.2 186.7,423.3 C187.2,423.4 187.7,423.5 188.2,423.5 C188.7,423.6 189.2,423.6 189.7,423.7 C190.2,423.7 190.7,423.7 191.2,423.8 C191.5,423.8 191.7,423.8 192,423.8" fill="none" stroke="#E31A1C" stroke-width="1.9" stroke-dasharray="6.85 6.85" stroke-dashoffset="6.70" stroke-linejoin="round"/>
<path d="M26.2,264.8 C26.7,264.8 27.2,264.8 27.7,264.8 C28.2,264.8 28.7,264.8 29.2,264.8 C29.7,264.8 30.2,264.8 30.7,264.8 C31.2,264.8 31.7,264.8 32.2,264.8 C32.7,264.8 33.2,264.8 33.7,264.8 C34.2,264.8 34.7,264.8 35.2,264.8 C35.7,264.8 36.2,264.8 36.7,264.8 C37.2,264.8 37.7,264.8 38.2,264.8 C38.7,264.8 39.2,264.8 39.7,264.8 C40.2,264.8 40.7,264.8 41.2,264.8 C41.7,264.8 42.2,264.8 42.7,264.8 C43.2,264.8 43.7,264.8 44.2,264.8 C44.7,264.8 45.2,264.8 45.7,264.8 C46.2,264.8 46.7,264.8 47.2,264.8 C47.7,264.8 48.2,264.8 48.7,264.8 C49.2,264.8 49.7,264.8 50.2,264.8 C50.7,264.8 51.2,264.8 51.7,264.8 C52.2,264.8 52.7,264.8 53.2,264.8 C53.7,264.8 54.2,264.8 54.7,264.8 C55.2,264.8 55.7,264.8 56.2,264.8 C56.7,264.8 57.2,264.8 57.7,264.8 C58.2,264.8 58.7,264.8 59.2,264.8 C59.7,264.8 60.2,264.8 60.7,264.8 C61.2,264.8 61.7,264.8 62.2,264.8 C62.7,264.8 63.2,264.8 63.7,264.8 C64.2,264.8 64.7,264.8 65.2,264.8 C65.7,264.8 66.2,264.8 66.7,264.8 C67.2,264.8 67.7,264.8 68.2,264.8 C68.7,264.8 69.2,264.8 69.7,264.8 C70.2,264.8 70.7,264.8 71.2,264.8 C71.7,264.8 72.2,264.8 72.7,264.8 C73.2,264.8 73.7,264.8 74.2,264.8 C74.7,264.8 75.2,264.8 75.7,264.8 C76.2,264.8 76.7,264.8 77.2,264.8 C77.7,264.8 78.2,264.8 78.7,264.8 C79.2,264.8 79.7,264.8 80.2,264.8 C80.7,264.8 81.2,264.8 81.7,264.8 C82.2,264.8 82.7,264.8 83.2,264.8 C83.7,264.8 84.2,264.8 84.7,264.8 C85.2,264.8 85.7,264.8 86.2,264.8 C86.7,264.8 87.2,264.8 87.7,264.8 C88.2,264.8 88.7,264.8 89.2,264.8 C89.7,264.8 90.2,264.8 90.7,264.8 C91.2,264.8 91.7,264.8 92.2,264.8 C92.7,264.8 93.2,264.8 93.7,264.8 C94.2,264.8 94.7,264.8 95.2,264.8 C95.7,264.8 96.2,264.8 96.7,264.8 C97.2,264.8 97.7,264.8 98.2,264.8 C98.7,264.8 99.2,264.8 99.7,264.8 C100.2,264.8 100.7,264.8 101.2,264.8 C101.7,264.8 102.2,264.8 102.7,264.8 C103.2,264.8 103.7,264.8 104.2,264.8 C104.7,264.8 105.2,264.8 105.7,264.8 C106.2,264.8 106.7,264.8 107.2,264.8 C107.7,264.8 108.2,264.8 108.7,264.8 C109.2,264.8 109.7,264.8 110.2,264.8 C110.7,264.8 111.2,264.8 111.7,264.8 C112.2,264.8 112.7,264.8 113.2,264.8 C113.7,264.8 114.2,264.8 114.7,264.8 C115.2,264.8 115.7,264.8 116.2,264.8 C116.7,264.8 117.2,264.8 117.7,264.8 C118.2,264.8 118.7,264.8 119.2,264.8 C119.7,264.8 120.2,264.8 120.7,264.8 C121.2,264.8 121.7,264.8 122.2,264.8 C122.7,264.8 123.2,264.8 123.7,264.8 C124.2,264.8 124.7,264.8 125.2,264.8 C125.7,264.8 126.2,264.8 126.7,264.8 C127.2,264.8 127.7,264.8 128.2,264.8 C128.7,264.8 129.2,264.8 129.7,264.8 C130.2,264.8 130.7,264.8 131.2,264.8 C131.7,264.8 132.2,264.8 132.7,264.8 C133.2,264.9 133.7,264.9 134.2,264.9 C134.7,264.9 135.2,264.9 135.7,264.9 C136.2,264.9 136.7,264.9 137.2,264.9 C137.7,264.9 138.2,265 138.7,265 C139.2,265 139.7,265 140.2,265.1 C140.7,265.1 141.2,265.1 141.7,265.2 C142.2,265.3 142.7,265.3 143.2,265.4 C143.7,265.5 144.2,265.7 144.7,265.9 C145.2,266 145.7,266.3 146.2,266.6 C146.7,266.9 147.2,267.3 147.7,267.8 C148.2,268.3 148.7,268.9 149.2,269.7 C149.7,270.5 150.2,271.5 150.7,272.6 C151.2,273.7 151.7,275.1 152.2,276.6 C152.7,278.1 153.2,279.9 153.7,281.8 C154.2,283.7 154.7,285.9 155.2,288 C155.7,290.2 156.2,292.6 156.7,294.9 C157.2,297.3 157.7,299.7 158.2,302.1 C158.7,304.5 159.2,306.9 159.7,309.2 C160.2,311.6 160.7,313.9 161.2,316.2 C161.7,318.5 162.2,320.8 162.7,323.1 C163.2,325.5 163.7,327.8 164.2,330.2 C164.7,332.7 165.2,335.2 165.7,337.9 C166.2,340.6 166.7,343.5 167.2,346.6 C167.7,349.8 168.2,353.4 168.7,357 C169.2,360.7 169.7,364.9 170.2,368.6 C170.7,372.2 171.2,375.9 171.7,379.2 C172.2,382.4 172.7,385.4 173.2,388.1 C173.7,390.8 174.2,393.4 174.7,395.6 C175.2,397.9 175.7,400.1 176.2,401.9 C176.7,403.8 177.2,405.5 177.7,407 C178.2,408.5 178.7,409.8 179.2,411 C179.7,412.1 180.2,413.2 180.7,414 C181.2,414.9 181.7,415.7 182.2,416.4 C182.7,417 183.2,417.6 183.7,418.1 C184.2,418.7 184.7,419.1 185.2,419.5 C185.7,419.9 186.2,420.3 186.7,420.6 C187.2,420.9 187.7,421.2 188.2,421.4 C188.7,421.7 189.2,421.9 189.7,422.1 C190.2,422.2 190.7,422.4 191.2,422.6 C191.7,422.7 192.2,422.8 192.7,422.9 C193.2,423 193.7,423.1 194.2,423.2 C194.7,423.3 195.2,423.4 195.7,423.4 C196.2,423.5 196.7,423.5 197.2,423.6 C197.7,423.6 198.2,423.7 198.7,423.7 C199.2,423.7 199.7,423.7 200.2,423.8 C200.7,423.8 201.2,423.8 201.7,423.8 C202.2,423.8 202.7,423.8 203.2,423.8 C203.7,423.8 204.2,423.9 204.7,423.9 C204.8,423.9 204.9,423.9 205,423.9" fill="none" stroke="#FDBF6F" stroke-width="1.9" stroke-linejoin="round"/>
<path d="M26.2,330.9 C26.7,330.9 27.2,330.9 27.7,330.9 C28.2,330.9 28.7,330.9 29.2,330.9 C29.7,330.9 30.2,330.9 30.7,330.9 C31.2,330.9 31.7,330.9 32.2,330.9 C32.7,330.9 33.2,330.9 33.7,330.9 C34.2,330.9 34.7,330.9 35.2,330.9 C35.7,330.9 36.2,330.9 36.7,330.9 C37.2,330.9 37.7,330.9 38.2,330.9 C38.7,330.9 39.2,330.9 39.7,330.9 C40.2,330.9 40.7,330.9 41.2,330.9 C41.7,330.9 42.2,330.9 42.7,330.9 C43.2,330.9 43.7,330.9 44.2,330.9 C44.7,330.9 45.2,330.9 45.7,330.9 C46.2,330.9 46.7,330.9 47.2,330.9 C47.7,330.9 48.2,330.9 48.7,330.9 C49.2,330.9 49.7,330.9 50.2,330.9 C50.7,330.9 51.2,330.9 51.7,330.9 C52.2,330.9 52.7,330.9 53.2,330.9 C53.7,330.9 54.2,330.9 54.7,330.9 C55.2,330.9 55.7,330.9 56.2,330.9 C56.7,330.9 57.2,330.9 57.7,330.9 C58.2,330.9 58.7,330.9 59.2,330.9 C59.7,330.9 60.2,330.9 60.7,330.9 C61.2,330.9 61.7,330.9 62.2,330.9 C62.7,330.9 63.2,330.9 63.7,330.9 C64.2,330.9 64.7,330.9 65.2,330.9 C65.7,330.9 66.2,330.9 66.7,330.9 C67.2,330.9 67.7,330.9 68.2,330.9 C68.7,330.9 69.2,330.9 69.7,330.9 C70.2,330.9 70.7,330.9 71.2,330.9 C71.7,330.9 72.2,330.9 72.7,330.9 C73.2,330.9 73.7,330.9 74.2,330.9 C74.7,330.9 75.2,330.9 75.7,330.9 C76.2,330.9 76.7,330.9 77.2,330.9 C77.7,330.9 78.2,330.9 78.7,330.9 C79.2,330.9 79.7,330.9 80.2,330.9 C80.7,330.9 81.2,330.9 81.7,330.9 C82.2,330.9 82.7,330.9 83.2,330.9 C83.7,330.9 84.2,330.9 84.7,330.9 C85.2,330.9 85.7,330.9 86.2,330.9 C86.7,330.9 87.2,330.9 87.7,330.9 C88.2,330.9 88.7,330.9 89.2,330.9 C89.7,330.9 90.2,330.9 90.7,330.9 C91.2,330.9 91.7,330.9 92.2,330.9 C92.7,330.9 93.2,330.9 93.7,330.9 C94.2,330.9 94.7,330.9 95.2,330.9 C95.7,330.9 96.2,330.9 96.7,330.9 C97.2,330.9 97.7,330.9 98.2,330.9 C98.7,330.9 99.2,330.9 99.7,330.9 C100.2,330.9 100.7,330.9 101.2,330.9 C101.7,330.9 102.2,330.9 102.7,330.9 C103.2,330.9 103.7,330.9 104.2,330.9 C104.7,330.9 105.2,330.9 105.7,330.9 C106.2,330.9 106.7,330.9 107.2,330.9 C107.7,330.9 108.2,330.9 108.7,330.9 C109.2,330.9 109.7,330.9 110.2,330.9 C110.7,330.9 111.2,330.9 111.7,330.9 C112.2,330.9 112.7,330.9 113.2,330.9 C113.7,330.9 114.2,330.9 114.7,330.9 C115.2,330.9 115.7,330.9 116.2,330.9 C116.7,330.9 117.2,330.9 117.7,330.9 C118.2,330.9 118.7,330.9 119.2,330.9 C119.7,330.9 120.2,330.9 120.7,331 C121.2,331 121.7,331 122.2,331 C122.7,331 123.2,331 123.7,331 C124.2,331.1 124.7,331.1 125.2,331.1 C125.7,331.1 126.2,331.1 126.7,331.2 C127.2,331.2 127.7,331.2 128.2,331.2 C128.7,331.2 129.2,331.3 129.7,331.3 C130.2,331.3 130.7,331.3 131.2,331.4 C131.7,331.4 132.2,331.4 132.7,331.4 C133.2,331.5 133.7,331.5 134.2,331.5 C134.7,331.5 135.2,331.6 135.7,331.6 C136.2,331.6 136.7,331.6 137.2,331.6 C137.7,331.7 138.2,331.7 138.7,331.7 C139.2,331.7 139.7,331.8 140.2,331.8 C140.7,331.8 141.2,331.9 141.7,331.9 C142.2,331.9 142.7,332 143.2,332 C143.7,332.1 144.2,332.2 144.7,332.3 C145.2,332.3 145.7,332.4 146.2,332.6 C146.7,332.7 147.2,332.9 147.7,333.1 C148.2,333.3 148.7,333.5 149.2,333.8 C149.7,334.1 150.2,334.5 150.7,334.9 C151.2,335.3 151.7,335.9 152.2,336.5 C152.7,337.2 153.2,338 153.7,339 C154.2,340 154.7,341.2 155.2,342.7 C155.7,344.1 156.2,345.9 156.7,347.7 C157.2,349.5 157.7,351.6 158.2,353.6 C158.7,355.6 159.2,357.7 159.7,359.6 C160.2,361.6 160.7,363.6 161.2,365.4 C161.7,367.3 162.2,369.2 162.7,371 C163.2,372.8 163.7,374.6 164.2,376.5 C164.7,378.3 165.2,380.1 165.7,381.9 C166.2,383.7 166.7,385.5 167.2,387.2 C167.7,388.9 168.2,390.6 168.7,392.2 C169.2,393.9 169.7,395.5 170.2,397 C170.7,398.5 171.2,399.9 171.7,401.3 C172.2,402.6 172.7,403.9 173.2,405.1 C173.7,406.3 174.2,407.5 174.7,408.5 C175.2,409.6 175.7,410.5 176.2,411.4 C176.7,412.3 177.2,413.2 177.7,413.9 C178.2,414.7 178.7,415.4 179.2,416 C179.7,416.7 180.2,417.3 180.7,417.8 C181.2,418.3 181.7,418.8 182.2,419.2 C182.7,419.6 183.2,420 183.7,420.4 C184.2,420.7 184.7,421 185.2,421.3 C185.7,421.6 186.2,421.8 186.7,422 C187.2,422.2 187.7,422.4 188.2,422.5 C188.7,422.7 189.2,422.8 189.7,423 C190.2,423.1 190.7,423.2 191.2,423.3 C191.7,423.3 192.2,423.4 192.7,423.5 C193.2,423.5 193.7,423.6 194.2,423.6 C194.7,423.7 195.2,423.7 195.7,423.7 C195.8,423.7 195.9,423.7 196,423.7" fill="none" stroke="#FF7F00" stroke-width="1.9" stroke-dasharray="1.8 5.05" stroke-dashoffset="6.75" stroke-linejoin="round"/>
<path d="M26.2,278.4 C26.7,278.4 27.2,278.4 27.7,278.4 C28.2,278.4 28.7,278.4 29.2,278.4 C29.7,278.4 30.2,278.4 30.7,278.4 C31.2,278.4 31.7,278.4 32.2,278.4 C32.7,278.4 33.2,278.4 33.7,278.4 C34.2,278.4 34.7,278.4 35.2,278.4 C35.7,278.4 36.2,278.4 36.7,278.4 C37.2,278.4 37.7,278.4 38.2,278.4 C38.7,278.4 39.2,278.4 39.7,278.4 C40.2,278.4 40.7,278.4 41.2,278.4 C41.7,278.4 42.2,278.4 42.7,278.4 C43.2,278.4 43.7,278.4 44.2,278.4 C44.7,278.4 45.2,278.4 45.7,278.4 C46.2,278.4 46.7,278.4 47.2,278.4 C47.7,278.4 48.2,278.4 48.7,278.4 C49.2,278.4 49.7,278.4 50.2,278.4 C50.7,278.4 51.2,278.4 51.7,278.4 C52.2,278.4 52.7,278.4 53.2,278.4 C53.7,278.4 54.2,278.4 54.7,278.4 C55.2,278.4 55.7,278.4 56.2,278.4 C56.7,278.4 57.2,278.4 57.7,278.4 C58.2,278.4 58.7,278.4 59.2,278.4 C59.7,278.4 60.2,278.4 60.7,278.4 C61.2,278.4 61.7,278.4 62.2,278.4 C62.7,278.4 63.2,278.4 63.7,278.4 C64.2,278.4 64.7,278.4 65.2,278.4 C65.7,278.4 66.2,278.4 66.7,278.4 C67.2,278.4 67.7,278.4 68.2,278.4 C68.7,278.4 69.2,278.4 69.7,278.4 C70.2,278.4 70.7,278.4 71.2,278.4 C71.7,278.4 72.2,278.4 72.7,278.4 C73.2,278.4 73.7,278.4 74.2,278.4 C74.7,278.4 75.2,278.4 75.7,278.4 C76.2,278.4 76.7,278.4 77.2,278.4 C77.7,278.4 78.2,278.4 78.7,278.4 C79.2,278.4 79.7,278.4 80.2,278.4 C80.7,278.4 81.2,278.4 81.7,278.4 C82.2,278.4 82.7,278.4 83.2,278.4 C83.7,278.4 84.2,278.4 84.7,278.4 C85.2,278.4 85.7,278.4 86.2,278.4 C86.7,278.4 87.2,278.4 87.7,278.4 C88.2,278.4 88.7,278.4 89.2,278.4 C89.7,278.4 90.2,278.4 90.7,278.4 C91.2,278.4 91.7,278.4 92.2,278.4 C92.7,278.4 93.2,278.4 93.7,278.4 C94.2,278.4 94.7,278.4 95.2,278.4 C95.7,278.4 96.2,278.4 96.7,278.4 C97.2,278.4 97.7,278.4 98.2,278.4 C98.7,278.4 99.2,278.4 99.7,278.4 C100.2,278.4 100.7,278.4 101.2,278.4 C101.7,278.4 102.2,278.4 102.7,278.4 C103.2,278.4 103.7,278.4 104.2,278.4 C104.7,278.4 105.2,278.4 105.7,278.4 C106.2,278.4 106.7,278.4 107.2,278.4 C107.7,278.4 108.2,278.4 108.7,278.4 C109.2,278.4 109.7,278.4 110.2,278.4 C110.7,278.4 111.2,278.4 111.7,278.4 C112.2,278.4 112.7,278.4 113.2,278.4 C113.7,278.4 114.2,278.4 114.7,278.4 C115.2,278.4 115.7,278.4 116.2,278.4 C116.7,278.4 117.2,278.4 117.7,278.4 C118.2,278.4 118.7,278.4 119.2,278.4 C119.7,278.4 120.2,278.4 120.7,278.4 C121.2,278.4 121.7,278.4 122.2,278.4 C122.7,278.4 123.2,278.4 123.7,278.4 C124.2,278.4 124.7,278.4 125.2,278.4 C125.7,278.4 126.2,278.4 126.7,278.4 C127.2,278.4 127.7,278.5 128.2,278.5 C128.7,278.5 129.2,278.5 129.7,278.5 C130.2,278.5 130.7,278.5 131.2,278.5 C131.7,278.5 132.2,278.6 132.7,278.6 C133.2,278.6 133.7,278.6 134.2,278.6 C134.7,278.6 135.2,278.7 135.7,278.7 C136.2,278.7 136.7,278.8 137.2,278.8 C137.7,278.8 138.2,278.9 138.7,278.9 C139.2,278.9 139.7,279 140.2,279 C140.7,279.1 141.2,279.1 141.7,279.2 C142.2,279.3 142.7,279.3 143.2,279.4 C143.7,279.5 144.2,279.6 144.7,279.7 C145.2,279.7 145.7,279.8 146.2,279.9 C146.7,280.1 147.2,280.2 147.7,280.3 C148.2,280.5 148.7,280.6 149.2,280.8 C149.7,281 150.2,281.2 150.7,281.6 C151.2,281.9 151.7,282.4 152.2,283 C152.7,283.6 153.2,284.5 153.7,285.7 C154.2,286.8 154.7,288.5 155.2,290.4 C155.7,292.3 156.2,294.8 156.7,297.4 C157.2,299.9 157.7,303 158.2,305.9 C158.7,308.8 159.2,311.8 159.7,314.6 C160.2,317.3 160.7,319.9 161.2,322.4 C161.7,324.9 162.2,327.2 162.7,329.5 C163.2,331.9 163.7,334.2 164.2,336.7 C164.7,339.2 165.2,341.9 165.7,344.8 C166.2,347.6 166.7,350.8 167.2,353.9 C167.7,357.1 168.2,360.5 168.7,363.8 C169.2,367.1 169.7,370.5 170.2,373.6 C170.7,376.8 171.2,379.9 171.7,382.7 C172.2,385.5 172.7,388.2 173.2,390.6 C173.7,393 174.2,395.2 174.7,397.1 C175.2,399.1 175.7,400.9 176.2,402.5 C176.7,404.1 177.2,405.5 177.7,406.8 C178.2,408.1 178.7,409.2 179.2,410.3 C179.7,411.3 180.2,412.2 180.7,413.1 C181.2,413.9 181.7,414.6 182.2,415.3 C182.7,416 183.2,416.5 183.7,417.1 C184.2,417.6 184.7,418 185.2,418.4 C185.7,418.8 186.2,419.2 186.7,419.5 C187.2,419.8 187.7,420.1 188.2,420.4 C188.7,420.6 189.2,420.8 189.7,421 C190.2,421.2 190.7,421.4 191.2,421.6 C191.7,421.7 192.2,421.9 192.7,422 C193.2,422.1 193.7,422.2 194.2,422.3 C194.7,422.4 195.2,422.5 195.7,422.6 C196.2,422.7 196.7,422.8 197.2,422.9 C197.7,422.9 198.2,423 198.7,423.1 C199.2,423.1 199.7,423.2 200.2,423.2 C200.7,423.3 201.2,423.3 201.7,423.4 C202.2,423.4 202.7,423.5 203.2,423.5 C203.7,423.5 204.2,423.6 204.7,423.6 C205.2,423.6 205.7,423.6 206.2,423.7 C206.7,423.7 207.2,423.7 207.7,423.7 C208.2,423.7 208.7,423.7 209.2,423.8 C209.7,423.8 210.2,423.8 210.7,423.8 C211.2,423.8 211.7,423.8 212.2,423.8 C212.4,423.8 212.5,423.8 212.7,423.8" fill="none" stroke="#CAB2D6" stroke-width="1.9" stroke-linejoin="round"/>
<text x="482.6" y="258.4" font-size="8.8" fill="#000" text-anchor="start" font-weight="normal">Sample</text>
<line x1="483.7" y1="270.5" x2="495.2" y2="270.5" stroke="#000" stroke-width="1.8" stroke-dasharray="1.8 5.05"/>
<text x="500.6" y="273.1" font-size="7.1" fill="#000" text-anchor="start" font-weight="normal">N−D</text>
<line x1="484" y1="284.3" x2="495.2" y2="284.3" stroke="#000" stroke-width="1.8" stroke-dasharray="6.85 6.85"/>
<text x="500.6" y="286.9" font-size="7.1" fill="#000" text-anchor="start" font-weight="normal">N−P</text>
<line x1="483.8" y1="298" x2="495.2" y2="298" stroke="#000" stroke-width="1.8"/>
<text x="500.6" y="300.6" font-size="7.1" fill="#000" text-anchor="start" font-weight="normal">T</text>
<text x="482.9" y="330" font-size="8.8" fill="#000" text-anchor="start" font-weight="normal">Dataset</text>
<line x1="483.8" y1="341.7" x2="495.2" y2="341.7" stroke="#A6CEE3" stroke-width="1.8"/>
<text x="501" y="344.2" font-size="7.1" fill="#000" text-anchor="start" font-weight="normal">ONT−std−1_N−D</text>
<line x1="483.8" y1="355.5" x2="495.2" y2="355.5" stroke="#1F78B4" stroke-width="1.8"/>
<text x="501" y="358.1" font-size="7.1" fill="#000" text-anchor="start" font-weight="normal">ONT−std−1_N−P</text>
<line x1="483.8" y1="369.4" x2="495.2" y2="369.4" stroke="#B2DF8A" stroke-width="1.8"/>
<text x="501" y="371.9" font-size="7.1" fill="#000" text-anchor="start" font-weight="normal">ONT−std−2_T</text>
<line x1="483.8" y1="383.2" x2="495.2" y2="383.2" stroke="#33A02C" stroke-width="1.8"/>
<text x="501" y="385.8" font-size="7.1" fill="#000" text-anchor="start" font-weight="normal">ONT−UL−1_T</text>
<line x1="483.8" y1="397.1" x2="495.2" y2="397.1" stroke="#FB9A99" stroke-width="1.8"/>
<text x="501" y="399.6" font-size="7.1" fill="#000" text-anchor="start" font-weight="normal">ONT−UL−2_T</text>
<line x1="483.8" y1="410.9" x2="495.2" y2="410.9" stroke="#E31A1C" stroke-width="1.8"/>
<text x="501" y="413.4" font-size="7.1" fill="#000" text-anchor="start" font-weight="normal">PB−HiFi−1_N−P</text>
<line x1="483.8" y1="424.7" x2="495.2" y2="424.7" stroke="#FDBF6F" stroke-width="1.8"/>
<text x="501" y="427.3" font-size="7.1" fill="#000" text-anchor="start" font-weight="normal">PB−HiFi−1_T</text>
<line x1="483.8" y1="438.6" x2="495.2" y2="438.6" stroke="#FF7F00" stroke-width="1.8"/>
<text x="501" y="441.1" font-size="7.1" fill="#000" text-anchor="start" font-weight="normal">PB−HiFi−2_N−D</text>
<line x1="483.8" y1="452.4" x2="495.2" y2="452.4" stroke="#CAB2D6" stroke-width="1.8"/>
<text x="501" y="455" font-size="7.1" fill="#000" text-anchor="start" font-weight="normal">PB−HiFi−2_T</text>
</svg>
</body></html>
